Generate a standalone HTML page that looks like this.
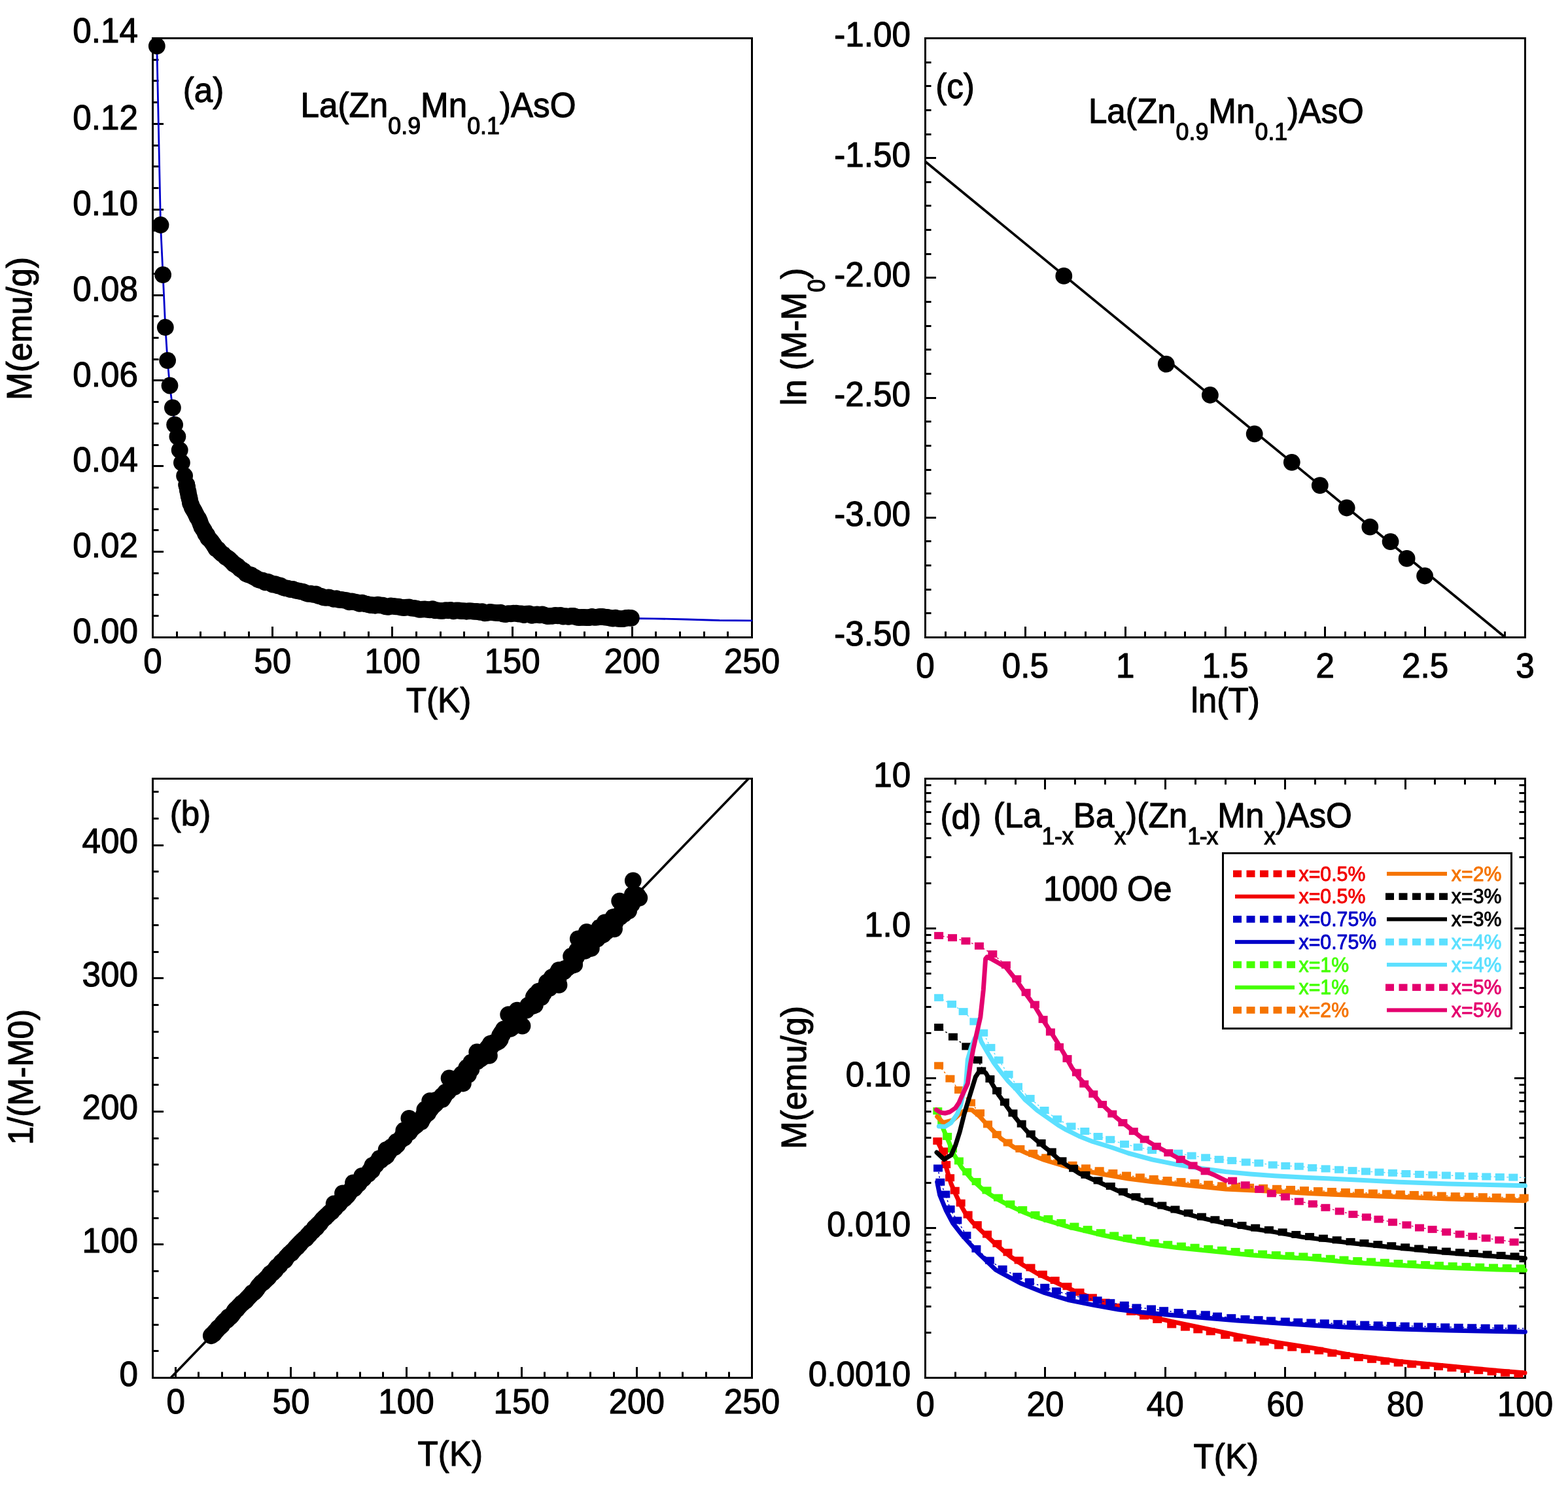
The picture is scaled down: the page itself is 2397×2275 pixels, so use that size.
<!DOCTYPE html>
<html><head><meta charset="utf-8"><title>Figure</title>
<style>
html,body{margin:0;padding:0;background:#fff;overflow:hidden;}
svg{display:block;}
text{font-family:"Liberation Sans",Arial,Helvetica,sans-serif;}
</style></head><body>
<svg width="2397" height="2275" viewBox="0 0 2397 2275">
<rect width="2397" height="2275" fill="#fff"/>
<g stroke="#000" stroke-width="3" stroke-linecap="butt">
<rect x="233.5" y="58.5" width="916" height="916" fill="none" stroke="#000" stroke-width="3"/>
<line x1="270.5" y1="974.5" x2="270.5" y2="965.5"/>
<line x1="306.5" y1="974.5" x2="306.5" y2="965.5"/>
<line x1="343.5" y1="974.5" x2="343.5" y2="965.5"/>
<line x1="380.5" y1="974.5" x2="380.5" y2="965.5"/>
<line x1="416.5" y1="974.5" x2="416.5" y2="958"/>
<line x1="453.5" y1="974.5" x2="453.5" y2="965.5"/>
<line x1="489.5" y1="974.5" x2="489.5" y2="965.5"/>
<line x1="526.5" y1="974.5" x2="526.5" y2="965.5"/>
<line x1="563.5" y1="974.5" x2="563.5" y2="965.5"/>
<line x1="599.5" y1="974.5" x2="599.5" y2="958"/>
<line x1="636.5" y1="974.5" x2="636.5" y2="965.5"/>
<line x1="673.5" y1="974.5" x2="673.5" y2="965.5"/>
<line x1="709.5" y1="974.5" x2="709.5" y2="965.5"/>
<line x1="746.5" y1="974.5" x2="746.5" y2="965.5"/>
<line x1="783.5" y1="974.5" x2="783.5" y2="958"/>
<line x1="819.5" y1="974.5" x2="819.5" y2="965.5"/>
<line x1="856.5" y1="974.5" x2="856.5" y2="965.5"/>
<line x1="893.5" y1="974.5" x2="893.5" y2="965.5"/>
<line x1="929.5" y1="974.5" x2="929.5" y2="965.5"/>
<line x1="966.5" y1="974.5" x2="966.5" y2="958"/>
<line x1="1002.5" y1="974.5" x2="1002.5" y2="965.5"/>
<line x1="1039.5" y1="974.5" x2="1039.5" y2="965.5"/>
<line x1="1076.5" y1="974.5" x2="1076.5" y2="965.5"/>
<line x1="1112.5" y1="974.5" x2="1112.5" y2="965.5"/>
<line x1="233.5" y1="941.5" x2="242.5" y2="941.5"/>
<line x1="233.5" y1="909.5" x2="242.5" y2="909.5"/>
<line x1="233.5" y1="876.5" x2="242.5" y2="876.5"/>
<line x1="233.5" y1="843.5" x2="250" y2="843.5"/>
<line x1="233.5" y1="810.5" x2="242.5" y2="810.5"/>
<line x1="233.5" y1="778.5" x2="242.5" y2="778.5"/>
<line x1="233.5" y1="745.5" x2="242.5" y2="745.5"/>
<line x1="233.5" y1="712.5" x2="250" y2="712.5"/>
<line x1="233.5" y1="680.5" x2="242.5" y2="680.5"/>
<line x1="233.5" y1="647.5" x2="242.5" y2="647.5"/>
<line x1="233.5" y1="614.5" x2="242.5" y2="614.5"/>
<line x1="233.5" y1="581.5" x2="250" y2="581.5"/>
<line x1="233.5" y1="549.5" x2="242.5" y2="549.5"/>
<line x1="233.5" y1="516.5" x2="242.5" y2="516.5"/>
<line x1="233.5" y1="483.5" x2="242.5" y2="483.5"/>
<line x1="233.5" y1="451.5" x2="250" y2="451.5"/>
<line x1="233.5" y1="418.5" x2="242.5" y2="418.5"/>
<line x1="233.5" y1="385.5" x2="242.5" y2="385.5"/>
<line x1="233.5" y1="352.5" x2="242.5" y2="352.5"/>
<line x1="233.5" y1="320.5" x2="250" y2="320.5"/>
<line x1="233.5" y1="287.5" x2="242.5" y2="287.5"/>
<line x1="233.5" y1="254.5" x2="242.5" y2="254.5"/>
<line x1="233.5" y1="222.5" x2="242.5" y2="222.5"/>
<line x1="233.5" y1="189.5" x2="250" y2="189.5"/>
<line x1="233.5" y1="156.5" x2="242.5" y2="156.5"/>
<line x1="233.5" y1="123.5" x2="242.5" y2="123.5"/>
<line x1="233.5" y1="91.5" x2="242.5" y2="91.5"/>
<rect x="233.5" y="1190.5" width="916" height="916" fill="none" stroke="#000" stroke-width="3"/>
<line x1="268.5" y1="2106.5" x2="268.5" y2="2090"/>
<line x1="303.5" y1="2106.5" x2="303.5" y2="2097.5"/>
<line x1="339.5" y1="2106.5" x2="339.5" y2="2097.5"/>
<line x1="374.5" y1="2106.5" x2="374.5" y2="2097.5"/>
<line x1="409.5" y1="2106.5" x2="409.5" y2="2097.5"/>
<line x1="444.5" y1="2106.5" x2="444.5" y2="2090"/>
<line x1="480.5" y1="2106.5" x2="480.5" y2="2097.5"/>
<line x1="515.5" y1="2106.5" x2="515.5" y2="2097.5"/>
<line x1="550.5" y1="2106.5" x2="550.5" y2="2097.5"/>
<line x1="585.5" y1="2106.5" x2="585.5" y2="2097.5"/>
<line x1="621.5" y1="2106.5" x2="621.5" y2="2090"/>
<line x1="656.5" y1="2106.5" x2="656.5" y2="2097.5"/>
<line x1="691.5" y1="2106.5" x2="691.5" y2="2097.5"/>
<line x1="726.5" y1="2106.5" x2="726.5" y2="2097.5"/>
<line x1="761.5" y1="2106.5" x2="761.5" y2="2097.5"/>
<line x1="797.5" y1="2106.5" x2="797.5" y2="2090"/>
<line x1="832.5" y1="2106.5" x2="832.5" y2="2097.5"/>
<line x1="867.5" y1="2106.5" x2="867.5" y2="2097.5"/>
<line x1="902.5" y1="2106.5" x2="902.5" y2="2097.5"/>
<line x1="938.5" y1="2106.5" x2="938.5" y2="2097.5"/>
<line x1="973.5" y1="2106.5" x2="973.5" y2="2090"/>
<line x1="1008.5" y1="2106.5" x2="1008.5" y2="2097.5"/>
<line x1="1043.5" y1="2106.5" x2="1043.5" y2="2097.5"/>
<line x1="1079.5" y1="2106.5" x2="1079.5" y2="2097.5"/>
<line x1="1114.5" y1="2106.5" x2="1114.5" y2="2097.5"/>
<line x1="233.5" y1="2065.5" x2="242.5" y2="2065.5"/>
<line x1="233.5" y1="2025.5" x2="242.5" y2="2025.5"/>
<line x1="233.5" y1="1984.5" x2="242.5" y2="1984.5"/>
<line x1="233.5" y1="1943.5" x2="242.5" y2="1943.5"/>
<line x1="233.5" y1="1902.5" x2="250" y2="1902.5"/>
<line x1="233.5" y1="1862.5" x2="242.5" y2="1862.5"/>
<line x1="233.5" y1="1821.5" x2="242.5" y2="1821.5"/>
<line x1="233.5" y1="1780.5" x2="242.5" y2="1780.5"/>
<line x1="233.5" y1="1740.5" x2="242.5" y2="1740.5"/>
<line x1="233.5" y1="1699.5" x2="250" y2="1699.5"/>
<line x1="233.5" y1="1658.5" x2="242.5" y2="1658.5"/>
<line x1="233.5" y1="1617.5" x2="242.5" y2="1617.5"/>
<line x1="233.5" y1="1577.5" x2="242.5" y2="1577.5"/>
<line x1="233.5" y1="1536.5" x2="242.5" y2="1536.5"/>
<line x1="233.5" y1="1495.5" x2="250" y2="1495.5"/>
<line x1="233.5" y1="1455.5" x2="242.5" y2="1455.5"/>
<line x1="233.5" y1="1414.5" x2="242.5" y2="1414.5"/>
<line x1="233.5" y1="1373.5" x2="242.5" y2="1373.5"/>
<line x1="233.5" y1="1332.5" x2="242.5" y2="1332.5"/>
<line x1="233.5" y1="1292.5" x2="250" y2="1292.5"/>
<line x1="233.5" y1="1251.5" x2="242.5" y2="1251.5"/>
<line x1="233.5" y1="1210.5" x2="242.5" y2="1210.5"/>
<rect x="1414.5" y="58.5" width="917" height="916" fill="none" stroke="#000" stroke-width="3"/>
<line x1="1445.5" y1="974.5" x2="1445.5" y2="965.5"/>
<line x1="1475.5" y1="974.5" x2="1475.5" y2="965.5"/>
<line x1="1506.5" y1="974.5" x2="1506.5" y2="965.5"/>
<line x1="1536.5" y1="974.5" x2="1536.5" y2="965.5"/>
<line x1="1567.5" y1="974.5" x2="1567.5" y2="958"/>
<line x1="1597.5" y1="974.5" x2="1597.5" y2="965.5"/>
<line x1="1628.5" y1="974.5" x2="1628.5" y2="965.5"/>
<line x1="1659.5" y1="974.5" x2="1659.5" y2="965.5"/>
<line x1="1689.5" y1="974.5" x2="1689.5" y2="965.5"/>
<line x1="1720.5" y1="974.5" x2="1720.5" y2="958"/>
<line x1="1750.5" y1="974.5" x2="1750.5" y2="965.5"/>
<line x1="1781.5" y1="974.5" x2="1781.5" y2="965.5"/>
<line x1="1811.5" y1="974.5" x2="1811.5" y2="965.5"/>
<line x1="1842.5" y1="974.5" x2="1842.5" y2="965.5"/>
<line x1="1873.5" y1="974.5" x2="1873.5" y2="958"/>
<line x1="1903.5" y1="974.5" x2="1903.5" y2="965.5"/>
<line x1="1934.5" y1="974.5" x2="1934.5" y2="965.5"/>
<line x1="1964.5" y1="974.5" x2="1964.5" y2="965.5"/>
<line x1="1995.5" y1="974.5" x2="1995.5" y2="965.5"/>
<line x1="2025.5" y1="974.5" x2="2025.5" y2="958"/>
<line x1="2056.5" y1="974.5" x2="2056.5" y2="965.5"/>
<line x1="2086.5" y1="974.5" x2="2086.5" y2="965.5"/>
<line x1="2117.5" y1="974.5" x2="2117.5" y2="965.5"/>
<line x1="2148.5" y1="974.5" x2="2148.5" y2="965.5"/>
<line x1="2178.5" y1="974.5" x2="2178.5" y2="958"/>
<line x1="2209.5" y1="974.5" x2="2209.5" y2="965.5"/>
<line x1="2239.5" y1="974.5" x2="2239.5" y2="965.5"/>
<line x1="2270.5" y1="974.5" x2="2270.5" y2="965.5"/>
<line x1="2300.5" y1="974.5" x2="2300.5" y2="965.5"/>
<line x1="1414.5" y1="937.5" x2="1423.5" y2="937.5"/>
<line x1="1414.5" y1="901.5" x2="1423.5" y2="901.5"/>
<line x1="1414.5" y1="864.5" x2="1423.5" y2="864.5"/>
<line x1="1414.5" y1="827.5" x2="1423.5" y2="827.5"/>
<line x1="1414.5" y1="791.5" x2="1431" y2="791.5"/>
<line x1="1414.5" y1="754.5" x2="1423.5" y2="754.5"/>
<line x1="1414.5" y1="718.5" x2="1423.5" y2="718.5"/>
<line x1="1414.5" y1="681.5" x2="1423.5" y2="681.5"/>
<line x1="1414.5" y1="644.5" x2="1423.5" y2="644.5"/>
<line x1="1414.5" y1="608.5" x2="1431" y2="608.5"/>
<line x1="1414.5" y1="571.5" x2="1423.5" y2="571.5"/>
<line x1="1414.5" y1="534.5" x2="1423.5" y2="534.5"/>
<line x1="1414.5" y1="498.5" x2="1423.5" y2="498.5"/>
<line x1="1414.5" y1="461.5" x2="1423.5" y2="461.5"/>
<line x1="1414.5" y1="424.5" x2="1431" y2="424.5"/>
<line x1="1414.5" y1="388.5" x2="1423.5" y2="388.5"/>
<line x1="1414.5" y1="351.5" x2="1423.5" y2="351.5"/>
<line x1="1414.5" y1="314.5" x2="1423.5" y2="314.5"/>
<line x1="1414.5" y1="278.5" x2="1423.5" y2="278.5"/>
<line x1="1414.5" y1="241.5" x2="1431" y2="241.5"/>
<line x1="1414.5" y1="205.5" x2="1423.5" y2="205.5"/>
<line x1="1414.5" y1="168.5" x2="1423.5" y2="168.5"/>
<line x1="1414.5" y1="131.5" x2="1423.5" y2="131.5"/>
<line x1="1414.5" y1="95.5" x2="1423.5" y2="95.5"/>
<rect x="1414.5" y="1190.5" width="917" height="916" fill="none" stroke="#000" stroke-width="3"/>
<line x1="1460.5" y1="2106.5" x2="1460.5" y2="2097.5"/>
<line x1="1460.5" y1="1190.5" x2="1460.5" y2="1199.5"/>
<line x1="1506.5" y1="2106.5" x2="1506.5" y2="2097.5"/>
<line x1="1506.5" y1="1190.5" x2="1506.5" y2="1199.5"/>
<line x1="1552.5" y1="2106.5" x2="1552.5" y2="2097.5"/>
<line x1="1552.5" y1="1190.5" x2="1552.5" y2="1199.5"/>
<line x1="1597.5" y1="2106.5" x2="1597.5" y2="2090"/>
<line x1="1597.5" y1="1190.5" x2="1597.5" y2="1207"/>
<line x1="1643.5" y1="2106.5" x2="1643.5" y2="2097.5"/>
<line x1="1643.5" y1="1190.5" x2="1643.5" y2="1199.5"/>
<line x1="1689.5" y1="2106.5" x2="1689.5" y2="2097.5"/>
<line x1="1689.5" y1="1190.5" x2="1689.5" y2="1199.5"/>
<line x1="1735.5" y1="2106.5" x2="1735.5" y2="2097.5"/>
<line x1="1735.5" y1="1190.5" x2="1735.5" y2="1199.5"/>
<line x1="1781.5" y1="2106.5" x2="1781.5" y2="2090"/>
<line x1="1781.5" y1="1190.5" x2="1781.5" y2="1207"/>
<line x1="1827.5" y1="2106.5" x2="1827.5" y2="2097.5"/>
<line x1="1827.5" y1="1190.5" x2="1827.5" y2="1199.5"/>
<line x1="1873.5" y1="2106.5" x2="1873.5" y2="2097.5"/>
<line x1="1873.5" y1="1190.5" x2="1873.5" y2="1199.5"/>
<line x1="1918.5" y1="2106.5" x2="1918.5" y2="2097.5"/>
<line x1="1918.5" y1="1190.5" x2="1918.5" y2="1199.5"/>
<line x1="1964.5" y1="2106.5" x2="1964.5" y2="2090"/>
<line x1="1964.5" y1="1190.5" x2="1964.5" y2="1207"/>
<line x1="2010.5" y1="2106.5" x2="2010.5" y2="2097.5"/>
<line x1="2010.5" y1="1190.5" x2="2010.5" y2="1199.5"/>
<line x1="2056.5" y1="2106.5" x2="2056.5" y2="2097.5"/>
<line x1="2056.5" y1="1190.5" x2="2056.5" y2="1199.5"/>
<line x1="2102.5" y1="2106.5" x2="2102.5" y2="2097.5"/>
<line x1="2102.5" y1="1190.5" x2="2102.5" y2="1199.5"/>
<line x1="2148.5" y1="2106.5" x2="2148.5" y2="2090"/>
<line x1="2148.5" y1="1190.5" x2="2148.5" y2="1207"/>
<line x1="2193.5" y1="2106.5" x2="2193.5" y2="2097.5"/>
<line x1="2193.5" y1="1190.5" x2="2193.5" y2="1199.5"/>
<line x1="2239.5" y1="2106.5" x2="2239.5" y2="2097.5"/>
<line x1="2239.5" y1="1190.5" x2="2239.5" y2="1199.5"/>
<line x1="2285.5" y1="2106.5" x2="2285.5" y2="2097.5"/>
<line x1="2285.5" y1="1190.5" x2="2285.5" y2="1199.5"/>
<line x1="1414.5" y1="2037.5" x2="1423.5" y2="2037.5"/>
<line x1="2331.5" y1="2037.5" x2="2322.5" y2="2037.5"/>
<line x1="1414.5" y1="1997.5" x2="1423.5" y2="1997.5"/>
<line x1="2331.5" y1="1997.5" x2="2322.5" y2="1997.5"/>
<line x1="1414.5" y1="1968.5" x2="1423.5" y2="1968.5"/>
<line x1="2331.5" y1="1968.5" x2="2322.5" y2="1968.5"/>
<line x1="1414.5" y1="1946.5" x2="1423.5" y2="1946.5"/>
<line x1="2331.5" y1="1946.5" x2="2322.5" y2="1946.5"/>
<line x1="1414.5" y1="1928.5" x2="1423.5" y2="1928.5"/>
<line x1="2331.5" y1="1928.5" x2="2322.5" y2="1928.5"/>
<line x1="1414.5" y1="1912.5" x2="1423.5" y2="1912.5"/>
<line x1="2331.5" y1="1912.5" x2="2322.5" y2="1912.5"/>
<line x1="1414.5" y1="1899.5" x2="1423.5" y2="1899.5"/>
<line x1="2331.5" y1="1899.5" x2="2322.5" y2="1899.5"/>
<line x1="1414.5" y1="1887.5" x2="1423.5" y2="1887.5"/>
<line x1="2331.5" y1="1887.5" x2="2322.5" y2="1887.5"/>
<line x1="1414.5" y1="1877.5" x2="1431" y2="1877.5"/>
<line x1="2331.5" y1="1877.5" x2="2315" y2="1877.5"/>
<line x1="1414.5" y1="1808.5" x2="1423.5" y2="1808.5"/>
<line x1="2331.5" y1="1808.5" x2="2322.5" y2="1808.5"/>
<line x1="1414.5" y1="1768.5" x2="1423.5" y2="1768.5"/>
<line x1="2331.5" y1="1768.5" x2="2322.5" y2="1768.5"/>
<line x1="1414.5" y1="1739.5" x2="1423.5" y2="1739.5"/>
<line x1="2331.5" y1="1739.5" x2="2322.5" y2="1739.5"/>
<line x1="1414.5" y1="1717.5" x2="1423.5" y2="1717.5"/>
<line x1="2331.5" y1="1717.5" x2="2322.5" y2="1717.5"/>
<line x1="1414.5" y1="1699.5" x2="1423.5" y2="1699.5"/>
<line x1="2331.5" y1="1699.5" x2="2322.5" y2="1699.5"/>
<line x1="1414.5" y1="1683.5" x2="1423.5" y2="1683.5"/>
<line x1="2331.5" y1="1683.5" x2="2322.5" y2="1683.5"/>
<line x1="1414.5" y1="1670.5" x2="1423.5" y2="1670.5"/>
<line x1="2331.5" y1="1670.5" x2="2322.5" y2="1670.5"/>
<line x1="1414.5" y1="1658.5" x2="1423.5" y2="1658.5"/>
<line x1="2331.5" y1="1658.5" x2="2322.5" y2="1658.5"/>
<line x1="1414.5" y1="1648.5" x2="1431" y2="1648.5"/>
<line x1="2331.5" y1="1648.5" x2="2315" y2="1648.5"/>
<line x1="1414.5" y1="1579.5" x2="1423.5" y2="1579.5"/>
<line x1="2331.5" y1="1579.5" x2="2322.5" y2="1579.5"/>
<line x1="1414.5" y1="1539.5" x2="1423.5" y2="1539.5"/>
<line x1="2331.5" y1="1539.5" x2="2322.5" y2="1539.5"/>
<line x1="1414.5" y1="1510.5" x2="1423.5" y2="1510.5"/>
<line x1="2331.5" y1="1510.5" x2="2322.5" y2="1510.5"/>
<line x1="1414.5" y1="1488.5" x2="1423.5" y2="1488.5"/>
<line x1="2331.5" y1="1488.5" x2="2322.5" y2="1488.5"/>
<line x1="1414.5" y1="1470.5" x2="1423.5" y2="1470.5"/>
<line x1="2331.5" y1="1470.5" x2="2322.5" y2="1470.5"/>
<line x1="1414.5" y1="1454.5" x2="1423.5" y2="1454.5"/>
<line x1="2331.5" y1="1454.5" x2="2322.5" y2="1454.5"/>
<line x1="1414.5" y1="1441.5" x2="1423.5" y2="1441.5"/>
<line x1="2331.5" y1="1441.5" x2="2322.5" y2="1441.5"/>
<line x1="1414.5" y1="1429.5" x2="1423.5" y2="1429.5"/>
<line x1="2331.5" y1="1429.5" x2="2322.5" y2="1429.5"/>
<line x1="1414.5" y1="1419.5" x2="1431" y2="1419.5"/>
<line x1="2331.5" y1="1419.5" x2="2315" y2="1419.5"/>
<line x1="1414.5" y1="1350.5" x2="1423.5" y2="1350.5"/>
<line x1="2331.5" y1="1350.5" x2="2322.5" y2="1350.5"/>
<line x1="1414.5" y1="1310.5" x2="1423.5" y2="1310.5"/>
<line x1="2331.5" y1="1310.5" x2="2322.5" y2="1310.5"/>
<line x1="1414.5" y1="1281.5" x2="1423.5" y2="1281.5"/>
<line x1="2331.5" y1="1281.5" x2="2322.5" y2="1281.5"/>
<line x1="1414.5" y1="1259.5" x2="1423.5" y2="1259.5"/>
<line x1="2331.5" y1="1259.5" x2="2322.5" y2="1259.5"/>
<line x1="1414.5" y1="1241.5" x2="1423.5" y2="1241.5"/>
<line x1="2331.5" y1="1241.5" x2="2322.5" y2="1241.5"/>
<line x1="1414.5" y1="1225.5" x2="1423.5" y2="1225.5"/>
<line x1="2331.5" y1="1225.5" x2="2322.5" y2="1225.5"/>
<line x1="1414.5" y1="1212.5" x2="1423.5" y2="1212.5"/>
<line x1="2331.5" y1="1212.5" x2="2322.5" y2="1212.5"/>
<line x1="1414.5" y1="1200.5" x2="1423.5" y2="1200.5"/>
<line x1="2331.5" y1="1200.5" x2="2322.5" y2="1200.5"/>
</g>
<g font-family="'Liberation Sans', Arial, Helvetica, sans-serif" font-size="51.2" stroke="#000" stroke-width="1.1" stroke-linejoin="round">
<text transform="translate(211,65.1) scale(1,1.0405)" text-anchor="end">0.14</text>
<text transform="translate(211,197.8) scale(1,1.0405)" text-anchor="end">0.12</text>
<text transform="translate(211,329.11) scale(1,1.0405)" text-anchor="end">0.10</text>
<text transform="translate(211,459.97) scale(1,1.0405)" text-anchor="end">0.08</text>
<text transform="translate(211,590.5) scale(1,1.0405)" text-anchor="end">0.06</text>
<text transform="translate(211,720.9) scale(1,1.0405)" text-anchor="end">0.04</text>
<text transform="translate(211,852.1) scale(1,1.0405)" text-anchor="end">0.02</text>
<text transform="translate(211,983.3) scale(1,1.0405)" text-anchor="end">0.00</text>
<text transform="translate(233.5,1028.7) scale(1,1.0405)" text-anchor="middle">0</text>
<text transform="translate(416.7,1028.7) scale(1,1.0405)" text-anchor="middle">50</text>
<text transform="translate(599.9,1028.7) scale(1,1.0405)" text-anchor="middle">100</text>
<text transform="translate(783.1,1028.7) scale(1,1.0405)" text-anchor="middle">150</text>
<text transform="translate(966.3,1028.7) scale(1,1.0405)" text-anchor="middle">200</text>
<text transform="translate(1149.5,1028.7) scale(1,1.0405)" text-anchor="middle">250</text>
<text transform="translate(211,2118.5) scale(1,1.0405)" text-anchor="end">0</text>
<text transform="translate(211,1914.94) scale(1,1.0405)" text-anchor="end">100</text>
<text transform="translate(211,1711.39) scale(1,1.0405)" text-anchor="end">200</text>
<text transform="translate(211,1507.83) scale(1,1.0405)" text-anchor="end">300</text>
<text transform="translate(211,1304.28) scale(1,1.0405)" text-anchor="end">400</text>
<text transform="translate(268.73,2160.5) scale(1,1.0405)" text-anchor="middle">0</text>
<text transform="translate(444.88,2160.5) scale(1,1.0405)" text-anchor="middle">50</text>
<text transform="translate(621.04,2160.5) scale(1,1.0405)" text-anchor="middle">100</text>
<text transform="translate(797.19,2160.5) scale(1,1.0405)" text-anchor="middle">150</text>
<text transform="translate(973.35,2160.5) scale(1,1.0405)" text-anchor="middle">200</text>
<text transform="translate(1149.5,2160.5) scale(1,1.0405)" text-anchor="middle">250</text>
<text transform="translate(1392,71.4) scale(1,1.0405)" text-anchor="end">-1.00</text>
<text transform="translate(1392,254.6) scale(1,1.0405)" text-anchor="end">-1.50</text>
<text transform="translate(1392,437.8) scale(1,1.0405)" text-anchor="end">-2.00</text>
<text transform="translate(1392,621) scale(1,1.0405)" text-anchor="end">-2.50</text>
<text transform="translate(1392,804.2) scale(1,1.0405)" text-anchor="end">-3.00</text>
<text transform="translate(1392,987.4) scale(1,1.0405)" text-anchor="end">-3.50</text>
<text transform="translate(1414.5,1036.2) scale(1,1.0405)" text-anchor="middle">0</text>
<text transform="translate(1567.33,1036.2) scale(1,1.0405)" text-anchor="middle">0.5</text>
<text transform="translate(1720.17,1036.2) scale(1,1.0405)" text-anchor="middle">1</text>
<text transform="translate(1873,1036.2) scale(1,1.0405)" text-anchor="middle">1.5</text>
<text transform="translate(2025.83,1036.2) scale(1,1.0405)" text-anchor="middle">2</text>
<text transform="translate(2178.67,1036.2) scale(1,1.0405)" text-anchor="middle">2.5</text>
<text transform="translate(2331.5,1036.2) scale(1,1.0405)" text-anchor="middle">3</text>
<text transform="translate(1392.3,1203.4) scale(1,1.0405)" text-anchor="end">10</text>
<text transform="translate(1392.3,1432.4) scale(1,1.0405)" text-anchor="end">1.0</text>
<text transform="translate(1392.3,1661.4) scale(1,1.0405)" text-anchor="end">0.10</text>
<text transform="translate(1392.3,1890.4) scale(1,1.0405)" text-anchor="end">0.010</text>
<text transform="translate(1392.3,2119.4) scale(1,1.0405)" text-anchor="end">0.0010</text>
<text transform="translate(1414.5,2164.7) scale(1,1.0405)" text-anchor="middle">0</text>
<text transform="translate(1597.9,2164.7) scale(1,1.0405)" text-anchor="middle">20</text>
<text transform="translate(1781.3,2164.7) scale(1,1.0405)" text-anchor="middle">40</text>
<text transform="translate(1964.7,2164.7) scale(1,1.0405)" text-anchor="middle">60</text>
<text transform="translate(2148.1,2164.7) scale(1,1.0405)" text-anchor="middle">80</text>
<text transform="translate(2331.5,2164.7) scale(1,1.0405)" text-anchor="middle">100</text>
<text transform="translate(620.7,1088.9) scale(1,1.0405)">T(K)</text>
<text transform="translate(638.6,2240.9) scale(1,1.0405)">T(K)</text>
<text transform="translate(1820.5,1089) scale(1,1.0405)">ln(T)</text>
<text transform="translate(1824.6,2244.7) scale(1,1.0405)">T(K)</text>
<text transform="translate(48,612) rotate(-90) scale(1,1.0405)">M(emu/g)</text>
<text transform="translate(49.9,1750.5) rotate(-90) scale(1,1.0405)">1/(M-M0)</text>
<text transform="translate(1232,1756.9) rotate(-90) scale(1,1.0405)">M(emu/g)</text>
<text transform="translate(1232,620.2) rotate(-90) scale(1,1.0405)">ln (M-M<tspan font-size="35.8" dy="28">0</tspan><tspan dy="-28">)</tspan></text>
<text transform="translate(279.7,155.7) scale(1,1.0405)">(a)</text>
<text transform="translate(259.7,1261.8) scale(1,1.0405)">(b)</text>
<text transform="translate(1430.2,150.3) scale(1,1.0405)">(c)</text>
<text transform="translate(1437.4,1266.8) scale(1,1.0405)">(d)</text>
<text transform="translate(459.6,179) scale(1,1.0405)">La(Zn<tspan font-size="35.8" dy="25">0.9</tspan><tspan dy="-25">Mn</tspan><tspan font-size="35.8" dy="25">0.1</tspan><tspan dy="-25">)AsO</tspan></text>
<text transform="translate(1663.9,188) scale(1,1.0405)">La(Zn<tspan font-size="35.8" dy="25">0.9</tspan><tspan dy="-25">Mn</tspan><tspan font-size="35.8" dy="25">0.1</tspan><tspan dy="-25">)AsO</tspan></text>
<text transform="translate(1518.6,1265) scale(1,1.0405)">(La<tspan font-size="35.8" dy="25" letter-spacing="-0.5">1-x</tspan><tspan dy="-25">Ba</tspan><tspan font-size="35.8" dy="25">x</tspan><tspan dy="-25">)(Zn</tspan><tspan font-size="35.8" dy="25" letter-spacing="-1.2">1-x</tspan><tspan dy="-25">Mn</tspan><tspan font-size="35.8" dy="25">x</tspan><tspan dy="-25">)AsO</tspan></text>
<text transform="translate(1595,1377) scale(1,1.0405)">1000 Oe</text>
</g>
<polyline points="239.8,70.4 245.5,344 249.1,420.1 252.8,500.5 256.1,551.1 259.5,589.5 263.9,623.4 267.1,649.3 271.4,667.6 274.7,688.2 277.9,707.5 282.1,727.5 285.3,741.4 288.4,757.3 291.3,771 296,781 301.6,790 309,806 317.5,821 329.4,837.2 334,841.5 350,856 376.6,876.7 400,887.5 429.9,897 467.2,905.8 500,913.5 528,919 560,923.5 598.6,927.4 650,931.5 700,934.5 782,938.4 850,941.5 900,943.5 966.6,945.5 1000,945.8 1050,947 1100,948.5 1149,948.8" fill="none" stroke="#0000CC" stroke-width="2.8" stroke-linejoin="round" stroke-linecap="round"/>
<g fill="#000">
<circle cx="239.8" cy="70.4" r="12.9"/>
<circle cx="245.5" cy="344" r="12.9"/>
<circle cx="249.1" cy="420.1" r="12.9"/>
<circle cx="252.8" cy="500.5" r="12.9"/>
<circle cx="256.1" cy="551.1" r="12.9"/>
<circle cx="259.5" cy="589.5" r="12.9"/>
<circle cx="263.9" cy="623.4" r="12.9"/>
<circle cx="267.1" cy="649.3" r="12.9"/>
<circle cx="271.4" cy="667.6" r="12.9"/>
<circle cx="274.7" cy="688.2" r="12.9"/>
<circle cx="277.9" cy="707.5" r="12.9"/>
<circle cx="282.1" cy="727.5" r="12.9"/>
<circle cx="285.3" cy="741.4" r="12.9"/>
<circle cx="285.3" cy="740.98" r="12.9"/>
<circle cx="286.07" cy="744.49" r="12.9"/>
<circle cx="286.83" cy="749.61" r="12.9"/>
<circle cx="287.6" cy="752.15" r="12.9"/>
<circle cx="288.36" cy="757.19" r="12.9"/>
<circle cx="289.19" cy="760.7" r="12.9"/>
<circle cx="290.02" cy="763.87" r="12.9"/>
<circle cx="290.84" cy="768.86" r="12.9"/>
<circle cx="292.06" cy="771.52" r="12.9"/>
<circle cx="293.77" cy="776.09" r="12.9"/>
<circle cx="295.47" cy="778.83" r="12.9"/>
<circle cx="297.45" cy="782.35" r="12.9"/>
<circle cx="299.56" cy="786.55" r="12.9"/>
<circle cx="301.66" cy="790.92" r="12.9"/>
<circle cx="303.34" cy="792.86" r="12.9"/>
<circle cx="305.02" cy="796.73" r="12.9"/>
<circle cx="306.7" cy="801.33" r="12.9"/>
<circle cx="308.38" cy="805.73" r="12.9"/>
<circle cx="310.24" cy="808.38" r="12.9"/>
<circle cx="312.21" cy="811.42" r="12.9"/>
<circle cx="314.19" cy="816.29" r="12.9"/>
<circle cx="316.16" cy="817.54" r="12.9"/>
<circle cx="318.26" cy="822.89" r="12.9"/>
<circle cx="320.62" cy="824.75" r="12.9"/>
<circle cx="322.99" cy="827.62" r="12.9"/>
<circle cx="325.36" cy="830.78" r="12.9"/>
<circle cx="327.73" cy="834.47" r="12.9"/>
<circle cx="330.26" cy="838.76" r="12.9"/>
<circle cx="333.18" cy="839.97" r="12.9"/>
<circle cx="336.13" cy="843.63" r="12.9"/>
<circle cx="339.1" cy="846.45" r="12.9"/>
<circle cx="342.06" cy="848.5" r="12.9"/>
<circle cx="345.03" cy="851.61" r="12.9"/>
<circle cx="347.99" cy="853.13" r="12.9"/>
<circle cx="351.02" cy="855.73" r="12.9"/>
<circle cx="354.17" cy="858.54" r="12.9"/>
<circle cx="357.33" cy="862.14" r="12.9"/>
<circle cx="360.49" cy="863.99" r="12.9"/>
<circle cx="363.64" cy="866.17" r="12.9"/>
<circle cx="366.8" cy="869.28" r="12.9"/>
<circle cx="369.96" cy="871.42" r="12.9"/>
<circle cx="373.11" cy="873.51" r="12.9"/>
<circle cx="376.27" cy="877.15" r="12.9"/>
<circle cx="379.85" cy="878.68" r="12.9"/>
<circle cx="383.48" cy="879.26" r="12.9"/>
<circle cx="387.12" cy="881.73" r="12.9"/>
<circle cx="390.75" cy="883.29" r="12.9"/>
<circle cx="394.38" cy="885.81" r="12.9"/>
<circle cx="398.01" cy="887.13" r="12.9"/>
<circle cx="401.73" cy="887.54" r="12.9"/>
<circle cx="405.54" cy="890.41" r="12.9"/>
<circle cx="409.35" cy="889.55" r="12.9"/>
<circle cx="413.16" cy="891.49" r="12.9"/>
<circle cx="416.97" cy="893.51" r="12.9"/>
<circle cx="420.79" cy="893.27" r="12.9"/>
<circle cx="424.6" cy="895.29" r="12.9"/>
<circle cx="428.41" cy="895.42" r="12.9"/>
<circle cx="432.27" cy="897.96" r="12.9"/>
<circle cx="436.17" cy="899.11" r="12.9"/>
<circle cx="440.06" cy="899.57" r="12.9"/>
<circle cx="443.95" cy="901.22" r="12.9"/>
<circle cx="447.84" cy="900.79" r="12.9"/>
<circle cx="451.74" cy="902.62" r="12.9"/>
<circle cx="455.63" cy="903.3" r="12.9"/>
<circle cx="459.52" cy="904.18" r="12.9"/>
<circle cx="463.42" cy="904.8" r="12.9"/>
<circle cx="467.31" cy="906.64" r="12.9"/>
<circle cx="471.2" cy="907.81" r="12.9"/>
<circle cx="475.1" cy="907.59" r="12.9"/>
<circle cx="478.99" cy="908.96" r="12.9"/>
<circle cx="482.89" cy="908.43" r="12.9"/>
<circle cx="486.78" cy="910.88" r="12.9"/>
<circle cx="490.68" cy="911.66" r="12.9"/>
<circle cx="494.57" cy="913.41" r="12.9"/>
<circle cx="498.46" cy="913.91" r="12.9"/>
<circle cx="502.38" cy="913.45" r="12.9"/>
<circle cx="506.3" cy="914.46" r="12.9"/>
<circle cx="510.23" cy="915.91" r="12.9"/>
<circle cx="514.15" cy="915.13" r="12.9"/>
<circle cx="518.08" cy="916.96" r="12.9"/>
<circle cx="522" cy="917.02" r="12.9"/>
<circle cx="525.93" cy="917.67" r="12.9"/>
<circle cx="529.87" cy="918.2" r="12.9"/>
<circle cx="533.83" cy="920.46" r="12.9"/>
<circle cx="537.79" cy="919.49" r="12.9"/>
<circle cx="541.75" cy="920.33" r="12.9"/>
<circle cx="545.71" cy="921.23" r="12.9"/>
<circle cx="549.67" cy="922.94" r="12.9"/>
<circle cx="553.63" cy="921.6" r="12.9"/>
<circle cx="557.6" cy="923.04" r="12.9"/>
<circle cx="561.56" cy="923.78" r="12.9"/>
<circle cx="565.54" cy="924.98" r="12.9"/>
<circle cx="569.52" cy="925.23" r="12.9"/>
<circle cx="573.5" cy="925.74" r="12.9"/>
<circle cx="577.48" cy="924.73" r="12.9"/>
<circle cx="581.46" cy="925.47" r="12.9"/>
<circle cx="585.44" cy="925.73" r="12.9"/>
<circle cx="589.42" cy="927.39" r="12.9"/>
<circle cx="593.4" cy="927.97" r="12.9"/>
<circle cx="597.38" cy="926.44" r="12.9"/>
<circle cx="601.37" cy="926.84" r="12.9"/>
<circle cx="605.35" cy="927.3" r="12.9"/>
<circle cx="609.34" cy="927.62" r="12.9"/>
<circle cx="613.33" cy="928.54" r="12.9"/>
<circle cx="617.32" cy="929.11" r="12.9"/>
<circle cx="621.3" cy="928.64" r="12.9"/>
<circle cx="625.29" cy="928.34" r="12.9"/>
<circle cx="629.28" cy="929.65" r="12.9"/>
<circle cx="633.27" cy="929.85" r="12.9"/>
<circle cx="637.25" cy="930.64" r="12.9"/>
<circle cx="641.24" cy="931.89" r="12.9"/>
<circle cx="645.23" cy="931.58" r="12.9"/>
<circle cx="649.21" cy="931.47" r="12.9"/>
<circle cx="653.21" cy="931.97" r="12.9"/>
<circle cx="657.2" cy="932.35" r="12.9"/>
<circle cx="661.19" cy="931.1" r="12.9"/>
<circle cx="665.18" cy="933.37" r="12.9"/>
<circle cx="669.18" cy="933.32" r="12.9"/>
<circle cx="673.17" cy="933.79" r="12.9"/>
<circle cx="677.16" cy="933.84" r="12.9"/>
<circle cx="681.16" cy="933.11" r="12.9"/>
<circle cx="685.15" cy="933.37" r="12.9"/>
<circle cx="689.14" cy="932.9" r="12.9"/>
<circle cx="693.13" cy="934.41" r="12.9"/>
<circle cx="697.13" cy="933.28" r="12.9"/>
<circle cx="701.12" cy="933.51" r="12.9"/>
<circle cx="705.12" cy="934.04" r="12.9"/>
<circle cx="709.11" cy="934.12" r="12.9"/>
<circle cx="713.11" cy="934.74" r="12.9"/>
<circle cx="717.1" cy="934.24" r="12.9"/>
<circle cx="721.1" cy="934.3" r="12.9"/>
<circle cx="725.09" cy="934.86" r="12.9"/>
<circle cx="729.09" cy="934.93" r="12.9"/>
<circle cx="733.08" cy="935.75" r="12.9"/>
<circle cx="737.08" cy="935.12" r="12.9"/>
<circle cx="741.08" cy="937.35" r="12.9"/>
<circle cx="745.07" cy="936.92" r="12.9"/>
<circle cx="749.07" cy="935.99" r="12.9"/>
<circle cx="753.06" cy="936.43" r="12.9"/>
<circle cx="757.06" cy="936.85" r="12.9"/>
<circle cx="761.05" cy="937.08" r="12.9"/>
<circle cx="765.05" cy="936.69" r="12.9"/>
<circle cx="769.04" cy="938.62" r="12.9"/>
<circle cx="773.04" cy="939.16" r="12.9"/>
<circle cx="777.03" cy="938.08" r="12.9"/>
<circle cx="781.03" cy="938.32" r="12.9"/>
<circle cx="785.03" cy="937.54" r="12.9"/>
<circle cx="789.02" cy="937.77" r="12.9"/>
<circle cx="793.02" cy="938.52" r="12.9"/>
<circle cx="797.01" cy="938.52" r="12.9"/>
<circle cx="801.01" cy="940.06" r="12.9"/>
<circle cx="805.01" cy="938.64" r="12.9"/>
<circle cx="809" cy="938.49" r="12.9"/>
<circle cx="813" cy="940.9" r="12.9"/>
<circle cx="816.99" cy="940.06" r="12.9"/>
<circle cx="820.99" cy="939.33" r="12.9"/>
<circle cx="824.98" cy="940.46" r="12.9"/>
<circle cx="828.98" cy="939.41" r="12.9"/>
<circle cx="832.98" cy="940.79" r="12.9"/>
<circle cx="836.97" cy="942.05" r="12.9"/>
<circle cx="840.97" cy="941.96" r="12.9"/>
<circle cx="844.96" cy="941.74" r="12.9"/>
<circle cx="848.96" cy="940.88" r="12.9"/>
<circle cx="852.96" cy="941.3" r="12.9"/>
<circle cx="856.95" cy="940.98" r="12.9"/>
<circle cx="860.95" cy="942.59" r="12.9"/>
<circle cx="864.95" cy="942.18" r="12.9"/>
<circle cx="868.94" cy="942.93" r="12.9"/>
<circle cx="872.94" cy="942.01" r="12.9"/>
<circle cx="876.94" cy="941.91" r="12.9"/>
<circle cx="880.93" cy="943.48" r="12.9"/>
<circle cx="884.93" cy="944.06" r="12.9"/>
<circle cx="888.93" cy="943.9" r="12.9"/>
<circle cx="892.92" cy="943.95" r="12.9"/>
<circle cx="896.92" cy="944.14" r="12.9"/>
<circle cx="900.92" cy="944.1" r="12.9"/>
<circle cx="904.92" cy="942.99" r="12.9"/>
<circle cx="908.91" cy="943.81" r="12.9"/>
<circle cx="912.91" cy="943.54" r="12.9"/>
<circle cx="916.91" cy="942.88" r="12.9"/>
<circle cx="920.91" cy="942.99" r="12.9"/>
<circle cx="924.91" cy="943.72" r="12.9"/>
<circle cx="928.91" cy="943.79" r="12.9"/>
<circle cx="932.9" cy="944.95" r="12.9"/>
<circle cx="936.9" cy="945.7" r="12.9"/>
<circle cx="940.9" cy="944.6" r="12.9"/>
<circle cx="944.9" cy="945.9" r="12.9"/>
<circle cx="948.9" cy="946.14" r="12.9"/>
<circle cx="952.89" cy="946.18" r="12.9"/>
<circle cx="956.89" cy="944.88" r="12.9"/>
<circle cx="960.89" cy="944.66" r="12.9"/>
<circle cx="964.89" cy="944.79" r="12.9"/>
</g>
<polyline points="261.3,2106.2 1143.8,1190.9" fill="none" stroke="#000" stroke-width="3.6" stroke-linejoin="round" stroke-linecap="butt"/>
<g fill="#000">
<circle cx="322.83" cy="2042.24" r="12.9"/>
<circle cx="324.79" cy="2040.52" r="12.9"/>
<circle cx="327.11" cy="2039.16" r="12.9"/>
<circle cx="328.25" cy="2036.66" r="12.9"/>
<circle cx="330.11" cy="2034.85" r="12.9"/>
<circle cx="332.03" cy="2033.09" r="12.9"/>
<circle cx="333.25" cy="2030.67" r="12.9"/>
<circle cx="335.52" cy="2029.26" r="12.9"/>
<circle cx="337.49" cy="2027.55" r="12.9"/>
<circle cx="339.52" cy="2025.91" r="12.9"/>
<circle cx="340.32" cy="2023.08" r="12.9"/>
<circle cx="342.42" cy="2021.5" r="12.9"/>
<circle cx="343.91" cy="2019.34" r="12.9"/>
<circle cx="346.75" cy="2018.47" r="12.9"/>
<circle cx="348.38" cy="2016.44" r="12.9"/>
<circle cx="349.24" cy="2013.67" r="12.9"/>
<circle cx="352.39" cy="2013.11" r="12.9"/>
<circle cx="354.17" cy="2011.22" r="12.9"/>
<circle cx="355.52" cy="2008.92" r="12.9"/>
<circle cx="357.27" cy="2007" r="12.9"/>
<circle cx="358.41" cy="2004.49" r="12.9"/>
<circle cx="360" cy="2002.43" r="12.9"/>
<circle cx="362.54" cy="2001.27" r="12.9"/>
<circle cx="363.67" cy="1998.76" r="12.9"/>
<circle cx="365.65" cy="1997.07" r="12.9"/>
<circle cx="367.53" cy="1995.28" r="12.9"/>
<circle cx="369.02" cy="1993.12" r="12.9"/>
<circle cx="371.45" cy="1991.85" r="12.9"/>
<circle cx="373.21" cy="1989.95" r="12.9"/>
<circle cx="375.59" cy="1988.64" r="12.9"/>
<circle cx="376.93" cy="1986.33" r="12.9"/>
<circle cx="378.9" cy="1984.63" r="12.9"/>
<circle cx="380.5" cy="1982.57" r="12.9"/>
<circle cx="382.53" cy="1980.92" r="12.9"/>
<circle cx="384.04" cy="1978.77" r="12.9"/>
<circle cx="385.58" cy="1976.66" r="12.9"/>
<circle cx="388.42" cy="1975.79" r="12.9"/>
<circle cx="390.21" cy="1973.92" r="12.9"/>
<circle cx="391.79" cy="1971.84" r="12.9"/>
<circle cx="393.4" cy="1969.79" r="12.9"/>
<circle cx="394.63" cy="1967.37" r="12.9"/>
<circle cx="396.31" cy="1965.39" r="12.9"/>
<circle cx="398.2" cy="1963.6" r="12.9"/>
<circle cx="399.68" cy="1961.43" r="12.9"/>
<circle cx="402.48" cy="1960.53" r="12.9"/>
<circle cx="403.76" cy="1958.16" r="12.9"/>
<circle cx="406.2" cy="1956.91" r="12.9"/>
<circle cx="407.34" cy="1954.4" r="12.9"/>
<circle cx="409.96" cy="1953.33" r="12.9"/>
<circle cx="411.6" cy="1951.31" r="12.9"/>
<circle cx="412.18" cy="1948.27" r="12.9"/>
<circle cx="414.28" cy="1946.69" r="12.9"/>
<circle cx="417.09" cy="1945.8" r="12.9"/>
<circle cx="418.26" cy="1943.32" r="12.9"/>
<circle cx="420.79" cy="1942.16" r="12.9"/>
<circle cx="421.75" cy="1939.48" r="12.9"/>
<circle cx="423.09" cy="1937.17" r="12.9"/>
<circle cx="425.69" cy="1936.07" r="12.9"/>
<circle cx="427.7" cy="1934.41" r="12.9"/>
<circle cx="428.77" cy="1931.84" r="12.9"/>
<circle cx="430.31" cy="1929.72" r="12.9"/>
<circle cx="432.46" cy="1928.19" r="12.9"/>
<circle cx="435.17" cy="1927.2" r="12.9"/>
<circle cx="436.67" cy="1925.05" r="12.9"/>
<circle cx="437.55" cy="1922.29" r="12.9"/>
<circle cx="439.53" cy="1920.6" r="12.9"/>
<circle cx="441.13" cy="1918.54" r="12.9"/>
<circle cx="442.87" cy="1916.61" r="12.9"/>
<circle cx="445.73" cy="1915.77" r="12.9"/>
<circle cx="446.64" cy="1913.04" r="12.9"/>
<circle cx="448.99" cy="1911.7" r="12.9"/>
<circle cx="450.62" cy="1909.68" r="12.9"/>
<circle cx="452.05" cy="1907.46" r="12.9"/>
<circle cx="454.63" cy="1906.34" r="12.9"/>
<circle cx="455.57" cy="1903.64" r="12.9"/>
<circle cx="458.11" cy="1902.49" r="12.9"/>
<circle cx="459.15" cy="1899.89" r="12.9"/>
<circle cx="461.39" cy="1898.44" r="12.9"/>
<circle cx="462.89" cy="1896.29" r="12.9"/>
<circle cx="464.77" cy="1894.5" r="12.9"/>
<circle cx="467.58" cy="1893.61" r="12.9"/>
<circle cx="469.14" cy="1891.51" r="12.9"/>
<circle cx="470.22" cy="1888.95" r="12.9"/>
<circle cx="472.85" cy="1887.89" r="12.9"/>
<circle cx="473.68" cy="1885.08" r="12.9"/>
<circle cx="475.75" cy="1883.47" r="12.9"/>
<circle cx="478.21" cy="1882.24" r="12.9"/>
<circle cx="479.7" cy="1880.08" r="12.9"/>
<circle cx="480.72" cy="1877.46" r="12.9"/>
<circle cx="483.8" cy="1876.83" r="12.9"/>
<circle cx="484.49" cy="1873.88" r="12.9"/>
<circle cx="486.35" cy="1872.08" r="12.9"/>
<circle cx="488.89" cy="1870.93" r="12.9"/>
<circle cx="490.05" cy="1868.44" r="12.9"/>
<circle cx="491.81" cy="1866.53" r="12.9"/>
<circle cx="493.29" cy="1864.36" r="12.9"/>
<circle cx="495.11" cy="1862.51" r="12.9"/>
<circle cx="497.62" cy="1861.33" r="12.9"/>
<circle cx="498.93" cy="1858.99" r="12.9"/>
<circle cx="501.25" cy="1857.62" r="12.9"/>
<circle cx="502.72" cy="1855.43" r="12.9"/>
<circle cx="504.63" cy="1853.68" r="12.9"/>
<circle cx="507.16" cy="1852.52" r="12.9"/>
<circle cx="508.28" cy="1849.99" r="12.9"/>
<circle cx="510.21" cy="1848.25" r="12.9"/>
<circle cx="512.43" cy="1846.79" r="12.9"/>
<circle cx="513.24" cy="1843.97" r="12.9"/>
<circle cx="515" cy="1842.06" r="12.9"/>
<circle cx="517.89" cy="1841.24" r="12.9"/>
<circle cx="519.56" cy="1839.25" r="12.9"/>
<circle cx="520.53" cy="1836.59" r="12.9"/>
<circle cx="522.23" cy="1834.63" r="12.9"/>
<circle cx="524.87" cy="1833.56" r="12.9"/>
<circle cx="527" cy="1832.01" r="12.9"/>
<circle cx="527.61" cy="1829" r="12.9"/>
<circle cx="530.65" cy="1828.33" r="12.9"/>
<circle cx="532.35" cy="1826.37" r="12.9"/>
<circle cx="533.68" cy="1824.05" r="12.9"/>
<circle cx="535.16" cy="1821.87" r="12.9"/>
<circle cx="536.38" cy="1819.45" r="12.9"/>
<circle cx="538.04" cy="1817.45" r="12.9"/>
<circle cx="541.58" cy="1817.25" r="12.9"/>
<circle cx="541.99" cy="1814.05" r="12.9"/>
<circle cx="544.7" cy="1813.06" r="12.9"/>
<circle cx="545.61" cy="1810.33" r="12.9"/>
<circle cx="548.57" cy="1809.58" r="12.9"/>
<circle cx="549.9" cy="1807.27" r="12.9"/>
<circle cx="551.06" cy="1804.78" r="12.9"/>
<circle cx="552.59" cy="1802.66" r="12.9"/>
<circle cx="555.59" cy="1801.94" r="12.9"/>
<circle cx="555.93" cy="1798.67" r="12.9"/>
<circle cx="558.08" cy="1797.14" r="12.9"/>
<circle cx="560.64" cy="1796" r="12.9"/>
<circle cx="563.14" cy="1794.81" r="12.9"/>
<circle cx="564.38" cy="1792.4" r="12.9"/>
<circle cx="565.36" cy="1789.75" r="12.9"/>
<circle cx="568.74" cy="1789.41" r="12.9"/>
<circle cx="568.75" cy="1785.81" r="12.9"/>
<circle cx="570.05" cy="1783.47" r="12.9"/>
<circle cx="572.5" cy="1782.22" r="12.9"/>
<circle cx="574.76" cy="1780.8" r="12.9"/>
<circle cx="575.52" cy="1777.92" r="12.9"/>
<circle cx="577.61" cy="1776.35" r="12.9"/>
<circle cx="579.94" cy="1774.98" r="12.9"/>
<circle cx="582.3" cy="1773.66" r="12.9"/>
<circle cx="582.85" cy="1770.59" r="12.9"/>
<circle cx="585.3" cy="1769.35" r="12.9"/>
<circle cx="588.65" cy="1768.97" r="12.9"/>
<circle cx="590.73" cy="1767.38" r="12.9"/>
<circle cx="591.57" cy="1764.59" r="12.9"/>
<circle cx="593.48" cy="1762.83" r="12.9"/>
<circle cx="594.96" cy="1760.65" r="12.9"/>
<circle cx="595.37" cy="1757.44" r="12.9"/>
<circle cx="596.82" cy="1755.24" r="12.9"/>
<circle cx="598.55" cy="1753.3" r="12.9"/>
<circle cx="603.23" cy="1754.22" r="12.9"/>
<circle cx="604.36" cy="1751.7" r="12.9"/>
<circle cx="607.04" cy="1750.68" r="12.9"/>
<circle cx="605.68" cy="1745.77" r="12.9"/>
<circle cx="609.56" cy="1745.91" r="12.9"/>
<circle cx="610.84" cy="1743.54" r="12.9"/>
<circle cx="613.51" cy="1742.5" r="12.9"/>
<circle cx="613.86" cy="1739.24" r="12.9"/>
<circle cx="618.08" cy="1739.71" r="12.9"/>
<circle cx="616.57" cy="1734.65" r="12.9"/>
<circle cx="620.07" cy="1734.42" r="12.9"/>
<circle cx="622.58" cy="1733.24" r="12.9"/>
<circle cx="625.8" cy="1731.14" r="12.9"/>
<circle cx="627.8" cy="1727.87" r="12.9"/>
<circle cx="630.29" cy="1725.06" r="12.9"/>
<circle cx="633.25" cy="1722.72" r="12.9"/>
<circle cx="636.35" cy="1720.5" r="12.9"/>
<circle cx="636.7" cy="1715.64" r="12.9"/>
<circle cx="640.66" cy="1714.25" r="12.9"/>
<circle cx="644.16" cy="1712.42" r="12.9"/>
<circle cx="646.66" cy="1709.63" r="12.9"/>
<circle cx="647.35" cy="1705.08" r="12.9"/>
<circle cx="651.56" cy="1703.94" r="12.9"/>
<circle cx="654.49" cy="1701.57" r="12.9"/>
<circle cx="655.82" cy="1697.65" r="12.9"/>
<circle cx="658.66" cy="1695.18" r="12.9"/>
<circle cx="660.16" cy="1691.43" r="12.9"/>
<circle cx="663.68" cy="1689.61" r="12.9"/>
<circle cx="666.41" cy="1687.04" r="12.9"/>
<circle cx="666.51" cy="1681.94" r="12.9"/>
<circle cx="671.77" cy="1681.8" r="12.9"/>
<circle cx="676.09" cy="1680.76" r="12.9"/>
<circle cx="678.16" cy="1677.56" r="12.9"/>
<circle cx="680.03" cy="1674.16" r="12.9"/>
<circle cx="680.94" cy="1669.83" r="12.9"/>
<circle cx="685.29" cy="1668.82" r="12.9"/>
<circle cx="687.12" cy="1665.38" r="12.9"/>
<circle cx="688.99" cy="1661.98" r="12.9"/>
<circle cx="693.68" cy="1661.29" r="12.9"/>
<circle cx="692.29" cy="1654.76" r="12.9"/>
<circle cx="698.44" cy="1655.48" r="12.9"/>
<circle cx="697.15" cy="1649.03" r="12.9"/>
<circle cx="702.85" cy="1649.33" r="12.9"/>
<circle cx="704.79" cy="1646" r="12.9"/>
<circle cx="705.99" cy="1641.95" r="12.9"/>
<circle cx="711.22" cy="1641.79" r="12.9"/>
<circle cx="712.68" cy="1637.99" r="12.9"/>
<circle cx="715.96" cy="1635.95" r="12.9"/>
<circle cx="720.35" cy="1634.98" r="12.9"/>
<circle cx="719.06" cy="1628.53" r="12.9"/>
<circle cx="720.2" cy="1624.42" r="12.9"/>
<circle cx="724.51" cy="1623.37" r="12.9"/>
<circle cx="729.38" cy="1622.87" r="12.9"/>
<circle cx="729.08" cy="1617.38" r="12.9"/>
<circle cx="731.46" cy="1614.47" r="12.9"/>
<circle cx="738.63" cy="1616.17" r="12.9"/>
<circle cx="739.71" cy="1612.01" r="12.9"/>
<circle cx="740.93" cy="1607.99" r="12.9"/>
<circle cx="746.41" cy="1608.06" r="12.9"/>
<circle cx="745.38" cy="1601.87" r="12.9"/>
<circle cx="750.18" cy="1601.3" r="12.9"/>
<circle cx="749.72" cy="1595.65" r="12.9"/>
<circle cx="753.84" cy="1594.42" r="12.9"/>
<circle cx="758.95" cy="1594.14" r="12.9"/>
<circle cx="762.29" cy="1592.16" r="12.9"/>
<circle cx="764.69" cy="1589.26" r="12.9"/>
<circle cx="763.91" cy="1583.31" r="12.9"/>
<circle cx="767.87" cy="1581.93" r="12.9"/>
<circle cx="768.62" cy="1577.45" r="12.9"/>
<circle cx="769.94" cy="1573.52" r="12.9"/>
<circle cx="775.07" cy="1573.26" r="12.9"/>
<circle cx="780.11" cy="1572.91" r="12.9"/>
<circle cx="782.81" cy="1570.32" r="12.9"/>
<circle cx="784.43" cy="1566.68" r="12.9"/>
<circle cx="788.79" cy="1565.68" r="12.9"/>
<circle cx="786.45" cy="1558.22" r="12.9"/>
<circle cx="788.24" cy="1554.73" r="12.9"/>
<circle cx="792.93" cy="1554.05" r="12.9"/>
<circle cx="794.2" cy="1550.08" r="12.9"/>
<circle cx="796.32" cy="1546.92" r="12.9"/>
<circle cx="800.44" cy="1545.68" r="12.9"/>
<circle cx="804.67" cy="1544.56" r="12.9"/>
<circle cx="806.25" cy="1540.88" r="12.9"/>
<circle cx="807.45" cy="1536.83" r="12.9"/>
<circle cx="814.18" cy="1538.11" r="12.9"/>
<circle cx="817.93" cy="1536.53" r="12.9"/>
<circle cx="816.32" cy="1529.77" r="12.9"/>
<circle cx="815.87" cy="1524.13" r="12.9"/>
<circle cx="818.09" cy="1521.07" r="12.9"/>
<circle cx="827.55" cy="1524.99" r="12.9"/>
<circle cx="823.32" cy="1515.71" r="12.9"/>
<circle cx="831.43" cy="1518.33" r="12.9"/>
<circle cx="832.89" cy="1514.53" r="12.9"/>
<circle cx="833.29" cy="1509.71" r="12.9"/>
<circle cx="839.97" cy="1510.95" r="12.9"/>
<circle cx="836" cy="1501.91" r="12.9"/>
<circle cx="839.57" cy="1500.16" r="12.9"/>
<circle cx="844.91" cy="1500.1" r="12.9"/>
<circle cx="843.76" cy="1493.79" r="12.9"/>
<circle cx="853.39" cy="1497.87" r="12.9"/>
<circle cx="850.78" cy="1490.15" r="12.9"/>
<circle cx="852.51" cy="1486.62" r="12.9"/>
<circle cx="854.25" cy="1483.09" r="12.9"/>
<circle cx="862.06" cy="1485.41" r="12.9"/>
<circle cx="863.02" cy="1481.13" r="12.9"/>
<circle cx="867.28" cy="1480.04" r="12.9"/>
<circle cx="870.12" cy="1477.57" r="12.9"/>
<circle cx="874.13" cy="1476.24" r="12.9"/>
<circle cx="878.15" cy="1474.91" r="12.9"/>
<circle cx="878.22" cy="1469.78" r="12.9"/>
<circle cx="876.28" cy="1462.69" r="12.9"/>
<circle cx="881.47" cy="1462.49" r="12.9"/>
<circle cx="881.24" cy="1457.08" r="12.9"/>
<circle cx="882.22" cy="1452.82" r="12.9"/>
<circle cx="889.23" cy="1454.37" r="12.9"/>
<circle cx="894.17" cy="1453.93" r="12.9"/>
<circle cx="891.57" cy="1446.22" r="12.9"/>
<circle cx="895.07" cy="1444.39" r="12.9"/>
<circle cx="898.38" cy="1442.38" r="12.9"/>
<circle cx="904.46" cy="1443.03" r="12.9"/>
<circle cx="905.3" cy="1438.65" r="12.9"/>
<circle cx="908.85" cy="1436.86" r="12.9"/>
<circle cx="912.88" cy="1435.55" r="12.9"/>
<circle cx="911.82" cy="1429.32" r="12.9"/>
<circle cx="918.48" cy="1430.53" r="12.9"/>
<circle cx="922.27" cy="1428.98" r="12.9"/>
<circle cx="916.44" cy="1418.16" r="12.9"/>
<circle cx="927.79" cy="1423.9" r="12.9"/>
<circle cx="928.22" cy="1419.11" r="12.9"/>
<circle cx="924.62" cy="1410.44" r="12.9"/>
<circle cx="930.61" cy="1411.01" r="12.9"/>
<circle cx="935.03" cy="1410.07" r="12.9"/>
<circle cx="940.67" cy="1410.3" r="12.9"/>
<circle cx="937.58" cy="1402.12" r="12.9"/>
<circle cx="942.24" cy="1401.41" r="12.9"/>
<circle cx="948.21" cy="1401.96" r="12.9"/>
<circle cx="949.93" cy="1398.42" r="12.9"/>
<circle cx="954.16" cy="1397.3" r="12.9"/>
<circle cx="951.5" cy="1389.52" r="12.9"/>
<circle cx="956.17" cy="1388.83" r="12.9"/>
<circle cx="953.82" cy="1381.35" r="12.9"/>
<circle cx="962.18" cy="1384.21" r="12.9"/>
<circle cx="965.88" cy="1382.57" r="12.9"/>
<circle cx="966.5" cy="1377.97" r="12.9"/>
<circle cx="969.97" cy="1376.11" r="12.9"/>
<circle cx="966.83" cy="1367.88" r="12.9"/>
<circle cx="977.29" cy="1372.76" r="12.9"/>
<circle cx="974.4" cy="1368.7" r="12.9"/>
<circle cx="967.8" cy="1346.4" r="12.9"/>
<circle cx="973.1" cy="1369.4" r="12.9"/>
<circle cx="947.2" cy="1377.6" r="12.9"/>
<circle cx="957.2" cy="1393.4" r="12.9"/>
<circle cx="961.1" cy="1392.6" r="12.9"/>
<circle cx="924.6" cy="1411.6" r="12.9"/>
<circle cx="939" cy="1420.3" r="12.9"/>
<circle cx="896.8" cy="1425" r="12.9"/>
<circle cx="915.8" cy="1430" r="12.9"/>
<circle cx="883.8" cy="1435.3" r="12.9"/>
<circle cx="903.8" cy="1450" r="12.9"/>
<circle cx="873.1" cy="1462" r="12.9"/>
<circle cx="862.5" cy="1483.3" r="12.9"/>
<circle cx="854.5" cy="1505.9" r="12.9"/>
<circle cx="838.5" cy="1504.6" r="12.9"/>
<circle cx="819.8" cy="1520.6" r="12.9"/>
<circle cx="811.8" cy="1536.6" r="12.9"/>
<circle cx="790.5" cy="1544.6" r="12.9"/>
<circle cx="777.2" cy="1551.2" r="12.9"/>
<circle cx="798.5" cy="1568.6" r="12.9"/>
<circle cx="782.5" cy="1571.2" r="12.9"/>
<circle cx="766.5" cy="1579.2" r="12.9"/>
<circle cx="755.9" cy="1595.2" r="12.9"/>
<circle cx="747.9" cy="1613.9" r="12.9"/>
<circle cx="729.2" cy="1608.5" r="12.9"/>
<circle cx="734.5" cy="1619.2" r="12.9"/>
<circle cx="715.9" cy="1643.2" r="12.9"/>
<circle cx="713.2" cy="1632.5" r="12.9"/>
<circle cx="686.6" cy="1648.5" r="12.9"/>
<circle cx="707.9" cy="1656.5" r="12.9"/>
<circle cx="694.6" cy="1661.8" r="12.9"/>
<circle cx="675.9" cy="1675.2" r="12.9"/>
<circle cx="657.2" cy="1683.2" r="12.9"/>
<circle cx="649.3" cy="1696.5" r="12.9"/>
<circle cx="643.9" cy="1715.1" r="12.9"/>
<circle cx="625.3" cy="1709.8" r="12.9"/>
<circle cx="617.3" cy="1728.5" r="12.9"/>
<circle cx="611.9" cy="1741.8" r="12.9"/>
<circle cx="590.6" cy="1757.8" r="12.9"/>
<circle cx="580" cy="1771.1" r="12.9"/>
<circle cx="569.3" cy="1781.8" r="12.9"/>
<circle cx="553.3" cy="1797.8" r="12.9"/>
<circle cx="540" cy="1808.4" r="12.9"/>
<circle cx="524" cy="1824.4" r="12.9"/>
<circle cx="510.7" cy="1840.4" r="12.9"/>
</g>
<polyline points="1414.5,247 2301,974.5" fill="none" stroke="#000" stroke-width="3.8" stroke-linejoin="round" stroke-linecap="butt"/>
<g fill="#000">
<circle cx="1626.3" cy="421.9" r="12.9"/>
<circle cx="1782.7" cy="556.6" r="12.9"/>
<circle cx="1849.9" cy="604" r="12.9"/>
<circle cx="1917.7" cy="663.4" r="12.9"/>
<circle cx="1974.8" cy="706.8" r="12.9"/>
<circle cx="2017.8" cy="742.1" r="12.9"/>
<circle cx="2058.7" cy="776.5" r="12.9"/>
<circle cx="2094.3" cy="805.7" r="12.9"/>
<circle cx="2125.6" cy="828.1" r="12.9"/>
<circle cx="2150.6" cy="853.9" r="12.9"/>
<circle cx="2178.1" cy="880.5" r="12.9"/>
</g>
<polyline points="1433,1742 1442,1760 1446,1780 1450,1794 1454,1807 1461,1823 1469,1840 1477,1854 1487,1866 1503,1881.5 1524,1901 1545,1918.5 1565.3,1932 1587.8,1945.2 1615.9,1959.04 1644,1972.88 1672,1984.72 1700.1,1995.06 1728.2,2005.21 1756.2,2014.25 1791,2023 1830.7,2031.1 1891.4,2044 1952.1,2055 2010,2064 2064.6,2074 2139.3,2084 2213.9,2091 2288,2098 2331,2101.5" fill="none" stroke="#F20000" stroke-width="1.5" stroke-linejoin="round" stroke-linecap="round" stroke-dasharray="1.5,5"/>
<g fill="#F20000">
<rect x="1426.3" y="1739.1" width="14" height="11"/>
<rect x="1435" y="1754.5" width="14" height="11"/>
<rect x="1439.17" y="1775.08" width="14" height="11"/>
<rect x="1445.07" y="1795.23" width="14" height="11"/>
<rect x="1452.79" y="1814.73" width="14" height="11"/>
<rect x="1461.65" y="1833.77" width="14" height="11"/>
<rect x="1472.6" y="1851.62" width="14" height="11"/>
<rect x="1486.78" y="1867.07" width="14" height="11"/>
<rect x="1501.99" y="1881.56" width="14" height="11"/>
<rect x="1517.39" y="1895.83" width="14" height="11"/>
<rect x="1533.52" y="1909.27" width="14" height="11"/>
<rect x="1550.64" y="1921.4" width="14" height="11"/>
<rect x="1568.47" y="1932.47" width="14" height="11"/>
<rect x="1586.82" y="1942.66" width="14" height="11"/>
<rect x="1605.66" y="1951.94" width="14" height="11"/>
<rect x="1624.5" y="1961.22" width="14" height="11"/>
<rect x="1643.5" y="1970.13" width="14" height="11"/>
<rect x="1662.85" y="1978.31" width="14" height="11"/>
<rect x="1682.51" y="1985.67" width="14" height="11"/>
<rect x="1702.24" y="1992.86" width="14" height="11"/>
<rect x="1722" y="1999.97" width="14" height="11"/>
<rect x="1741.99" y="2006.42" width="14" height="11"/>
<rect x="1762.22" y="2012.02" width="14" height="11"/>
<rect x="1784.2" y="2019.5" width="14" height="11"/>
<rect x="1804.9" y="2023.7" width="14" height="11"/>
<rect x="1824.3" y="2027.4" width="14" height="11"/>
<rect x="1843.7" y="2030.4" width="14" height="11"/>
<rect x="1866.2" y="2035.9" width="14" height="11"/>
<rect x="1885.6" y="2040.1" width="14" height="11"/>
<rect x="1905.6" y="2043.2" width="14" height="11"/>
<rect x="1925.7" y="2046.2" width="14" height="11"/>
<rect x="1948.1" y="2051.6" width="14" height="11"/>
<rect x="1968.2" y="2054.7" width="14" height="11"/>
<rect x="1988.8" y="2057.7" width="14" height="11"/>
<rect x="2009.17" y="2059.63" width="14" height="11"/>
<rect x="2029.34" y="2063.32" width="14" height="11"/>
<rect x="2049.5" y="2067.02" width="14" height="11"/>
<rect x="2069.76" y="2070.13" width="14" height="11"/>
<rect x="2090.08" y="2072.85" width="14" height="11"/>
<rect x="2110.4" y="2075.57" width="14" height="11"/>
<rect x="2130.72" y="2078.29" width="14" height="11"/>
<rect x="2151.12" y="2080.27" width="14" height="11"/>
<rect x="2171.53" y="2082.18" width="14" height="11"/>
<rect x="2191.94" y="2084.1" width="14" height="11"/>
<rect x="2212.35" y="2086.01" width="14" height="11"/>
<rect x="2232.76" y="2087.94" width="14" height="11"/>
<rect x="2253.17" y="2089.87" width="14" height="11"/>
<rect x="2273.58" y="2091.8" width="14" height="11"/>
<rect x="2294" y="2093.56" width="14" height="11"/>
<rect x="2314.43" y="2095.22" width="14" height="11"/>
</g>
<polyline points="1433,1745 1442,1763 1446,1783 1450,1797 1454,1810 1461,1826 1469,1843 1477,1857 1487,1869 1503,1884.5 1524,1904 1545,1921.5 1565.3,1935 1587.8,1948.2 1615.9,1961.5 1644,1974.5 1672,1985.5 1700.1,1995 1728.2,2004.3 1756.2,2012.5 1791,2020.5 1830.7,2028.6 1891.4,2041.5 1952.1,2052.5 2010,2061.5 2064.6,2071.5 2139.3,2081.5 2213.9,2088.5 2288,2095.5 2331,2099" fill="none" stroke="#F20000" stroke-width="7" stroke-linejoin="round" stroke-linecap="round"/>
<polyline points="1434,1786 1437.3,1807.3 1445.3,1826 1452.6,1848.6 1463.3,1865.9 1477.4,1888.7 1492.4,1909.3 1512.9,1927.1 1532.6,1940.2 1555,1951.4 1573.8,1959.8 1597.2,1968.3 1614.9,1973.9 1637.4,1980.4 1657,1984.2 1677.6,1987.9 1697.3,1991.7 1718.8,1995.4 1737.5,1999.1 1760,2001 1779.1,2003.7 1801.6,2006.5 1821.6,2008.6 1842.8,2009.8 1861,2012.2 1882.3,2014.7 1903.5,2016.5 1923.6,2017.7 1943,2018.9 1964.8,2020.1 1984.3,2021.1 2004.3,2022 2064.6,2024.5 2139.3,2027 2213.9,2029 2288.5,2030.5 2331,2031" fill="none" stroke="#0000C8" stroke-width="1.5" stroke-linejoin="round" stroke-linecap="round" stroke-dasharray="1.5,5"/>
<g fill="#0000C8">
<rect x="1427" y="1780.5" width="14" height="11"/>
<rect x="1430.3" y="1801.8" width="14" height="11"/>
<rect x="1438.3" y="1820.5" width="14" height="11"/>
<rect x="1445.6" y="1843.1" width="14" height="11"/>
<rect x="1456.3" y="1860.4" width="14" height="11"/>
<rect x="1470.4" y="1883.2" width="14" height="11"/>
<rect x="1485.4" y="1903.8" width="14" height="11"/>
<rect x="1505.9" y="1921.6" width="14" height="11"/>
<rect x="1525.6" y="1934.7" width="14" height="11"/>
<rect x="1548" y="1945.9" width="14" height="11"/>
<rect x="1566.8" y="1954.3" width="14" height="11"/>
<rect x="1590.2" y="1962.8" width="14" height="11"/>
<rect x="1607.9" y="1968.4" width="14" height="11"/>
<rect x="1630.4" y="1974.9" width="14" height="11"/>
<rect x="1650" y="1978.7" width="14" height="11"/>
<rect x="1670.6" y="1982.4" width="14" height="11"/>
<rect x="1690.3" y="1986.2" width="14" height="11"/>
<rect x="1711.8" y="1989.9" width="14" height="11"/>
<rect x="1730.5" y="1993.6" width="14" height="11"/>
<rect x="1753" y="1995.5" width="14" height="11"/>
<rect x="1772.1" y="1998.2" width="14" height="11"/>
<rect x="1794.6" y="2001" width="14" height="11"/>
<rect x="1814.6" y="2003.1" width="14" height="11"/>
<rect x="1835.8" y="2004.3" width="14" height="11"/>
<rect x="1854" y="2006.7" width="14" height="11"/>
<rect x="1875.3" y="2009.2" width="14" height="11"/>
<rect x="1896.5" y="2011" width="14" height="11"/>
<rect x="1916.6" y="2012.2" width="14" height="11"/>
<rect x="1936" y="2013.4" width="14" height="11"/>
<rect x="1957.8" y="2014.6" width="14" height="11"/>
<rect x="1977.3" y="2015.6" width="14" height="11"/>
<rect x="1997.3" y="2016.5" width="14" height="11"/>
<rect x="2017.78" y="2017.35" width="14" height="11"/>
<rect x="2038.26" y="2018.2" width="14" height="11"/>
<rect x="2058.75" y="2019.04" width="14" height="11"/>
<rect x="2079.24" y="2019.72" width="14" height="11"/>
<rect x="2099.72" y="2020.41" width="14" height="11"/>
<rect x="2120.21" y="2021.1" width="14" height="11"/>
<rect x="2140.7" y="2021.73" width="14" height="11"/>
<rect x="2161.2" y="2022.27" width="14" height="11"/>
<rect x="2181.69" y="2022.82" width="14" height="11"/>
<rect x="2202.18" y="2023.37" width="14" height="11"/>
<rect x="2222.68" y="2023.82" width="14" height="11"/>
<rect x="2243.17" y="2024.23" width="14" height="11"/>
<rect x="2263.67" y="2024.64" width="14" height="11"/>
<rect x="2284.16" y="2025.03" width="14" height="11"/>
<rect x="2304.66" y="2025.27" width="14" height="11"/>
</g>
<polyline points="1432.7,1807.3 1436.7,1827.2 1446,1850 1456.6,1870 1471.8,1889.5 1494.2,1914.5 1522.3,1941.5 1559.7,1961.7 1597.2,1976.7 1634.6,1987.9 1672,1995.4 1709.5,2002 1746.9,2006.6 1790,2010.5 1891.4,2019 2010,2026.5 2064.6,2029.5 2139.3,2032 2213.9,2034 2288.5,2035.5 2331.4,2036.2" fill="none" stroke="#0000C8" stroke-width="7" stroke-linejoin="round" stroke-linecap="round"/>
<polyline points="1433.3,1698.6 1442,1723.1 1450,1741.8 1458,1761.8 1470,1781.8 1484.6,1799.1 1503.3,1816.5 1523.3,1829.7 1543.3,1840.4 1563.3,1849.7 1583.2,1857.7 1609.9,1865.7 1636.5,1873.7 1660,1879 1687.3,1885.8 1724.6,1893.3 1761.9,1899.8 1799.3,1904.5 1836.6,1908.2 1873.9,1911.9 1911.2,1915.7 1948.5,1918.5 2000,1921.3 2064.6,1926.9 2139.3,1931.6 2213.9,1935.3 2288.5,1938.1 2331.4,1939.1" fill="none" stroke="#44FF00" stroke-width="1.5" stroke-linejoin="round" stroke-linecap="round" stroke-dasharray="1.5,5"/>
<g fill="#44FF00">
<rect x="1426.3" y="1693.1" width="14" height="11"/>
<rect x="1433.26" y="1712.7" width="14" height="11"/>
<rect x="1441.14" y="1731.94" width="14" height="11"/>
<rect x="1448.97" y="1751.21" width="14" height="11"/>
<rect x="1458.88" y="1769.44" width="14" height="11"/>
<rect x="1471.25" y="1786.08" width="14" height="11"/>
<rect x="1485.62" y="1801.07" width="14" height="11"/>
<rect x="1501.49" y="1814.42" width="14" height="11"/>
<rect x="1518.99" y="1825.64" width="14" height="11"/>
<rect x="1537.36" y="1835.39" width="14" height="11"/>
<rect x="1556.22" y="1844.16" width="14" height="11"/>
<rect x="1575.52" y="1851.93" width="14" height="11"/>
<rect x="1595.42" y="1857.96" width="14" height="11"/>
<rect x="1615.34" y="1863.94" width="14" height="11"/>
<rect x="1635.37" y="1869.52" width="14" height="11"/>
<rect x="1655.65" y="1874.16" width="14" height="11"/>
<rect x="1675.83" y="1879.19" width="14" height="11"/>
<rect x="1696.17" y="1883.49" width="14" height="11"/>
<rect x="1716.57" y="1887.59" width="14" height="11"/>
<rect x="1737.05" y="1891.19" width="14" height="11"/>
<rect x="1757.56" y="1894.63" width="14" height="11"/>
<rect x="1778.2" y="1897.23" width="14" height="11"/>
<rect x="1798.86" y="1899.65" width="14" height="11"/>
<rect x="1819.56" y="1901.7" width="14" height="11"/>
<rect x="1840.25" y="1903.76" width="14" height="11"/>
<rect x="1860.95" y="1905.81" width="14" height="11"/>
<rect x="1881.65" y="1907.9" width="14" height="11"/>
<rect x="1902.34" y="1910.01" width="14" height="11"/>
<rect x="1923.08" y="1911.62" width="14" height="11"/>
<rect x="1943.82" y="1913.13" width="14" height="11"/>
<rect x="1964.59" y="1914.26" width="14" height="11"/>
<rect x="1985.36" y="1915.38" width="14" height="11"/>
<rect x="2006.1" y="1916.94" width="14" height="11"/>
<rect x="2026.82" y="1918.73" width="14" height="11"/>
<rect x="2047.55" y="1920.53" width="14" height="11"/>
<rect x="2068.29" y="1922.07" width="14" height="11"/>
<rect x="2089.05" y="1923.38" width="14" height="11"/>
<rect x="2109.8" y="1924.68" width="14" height="11"/>
<rect x="2130.56" y="1925.99" width="14" height="11"/>
<rect x="2151.34" y="1927.04" width="14" height="11"/>
<rect x="2172.11" y="1928.07" width="14" height="11"/>
<rect x="2192.89" y="1929.1" width="14" height="11"/>
<rect x="2213.66" y="1930.05" width="14" height="11"/>
<rect x="2234.45" y="1930.83" width="14" height="11"/>
<rect x="2255.23" y="1931.61" width="14" height="11"/>
<rect x="2276.02" y="1932.39" width="14" height="11"/>
<rect x="2296.81" y="1932.96" width="14" height="11"/>
<rect x="2317.61" y="1933.44" width="14" height="11"/>
</g>
<polyline points="1434,1703.5 1442,1726.1 1450,1744.8 1458,1764.8 1470,1784.8 1484.6,1802.1 1503.3,1819.5 1523.3,1832.7 1543.3,1843.4 1563.3,1852.7 1583.2,1860.7 1609.9,1868.7 1636.5,1876.7 1660,1882 1687.3,1888.8 1724.6,1896.3 1761.9,1902.8 1799.3,1907.5 1836.6,1911.2 1873.9,1914.9 1911.2,1918.7 1948.5,1921.5 2000,1924.3 2064.6,1929.9 2139.3,1934.6 2213.9,1938.3 2288.5,1941.1 2331.4,1942.1" fill="none" stroke="#44FF00" stroke-width="7" stroke-linejoin="round" stroke-linecap="round"/>
<polyline points="1435.1,1629.2 1452.4,1649.2 1466,1666.5 1484,1686 1500,1703.9 1510.7,1719.9 1521.3,1732.7 1532,1741.2 1548,1751.9 1564,1758.3 1596.6,1769 1623.2,1777 1649.9,1784 1687.3,1791 1724.6,1797.5 1761.9,1802.2 1799.3,1806 1836.6,1809.7 1873.9,1813.4 1911.2,1815.3 1948.5,1817.1 2000,1820 2064.6,1822.8 2139.3,1825.6 2213.9,1828.4 2288.5,1830.3 2331.4,1831.2" fill="none" stroke="#F57400" stroke-width="1.5" stroke-linejoin="round" stroke-linecap="round" stroke-dasharray="1.5,5"/>
<g fill="#F57400">
<rect x="1428.1" y="1623.7" width="14" height="11"/>
<rect x="1445.4" y="1643.7" width="14" height="11"/>
<rect x="1459" y="1661" width="14" height="11"/>
<rect x="1477" y="1680.5" width="14" height="11"/>
<rect x="1491" y="1696.16" width="14" height="11"/>
<rect x="1503" y="1713.36" width="14" height="11"/>
<rect x="1516.75" y="1729.14" width="14" height="11"/>
<rect x="1533.69" y="1741.51" width="14" height="11"/>
<rect x="1552.34" y="1750.93" width="14" height="11"/>
<rect x="1572.18" y="1757.78" width="14" height="11"/>
<rect x="1592.15" y="1764.27" width="14" height="11"/>
<rect x="1612.26" y="1770.32" width="14" height="11"/>
<rect x="1632.54" y="1775.78" width="14" height="11"/>
<rect x="1653.01" y="1780.39" width="14" height="11"/>
<rect x="1673.65" y="1784.26" width="14" height="11"/>
<rect x="1694.33" y="1787.94" width="14" height="11"/>
<rect x="1715.02" y="1791.55" width="14" height="11"/>
<rect x="1735.83" y="1794.3" width="14" height="11"/>
<rect x="1756.67" y="1796.88" width="14" height="11"/>
<rect x="1777.56" y="1799" width="14" height="11"/>
<rect x="1798.46" y="1801.11" width="14" height="11"/>
<rect x="1819.36" y="1803.18" width="14" height="11"/>
<rect x="1840.25" y="1805.26" width="14" height="11"/>
<rect x="1861.15" y="1807.33" width="14" height="11"/>
<rect x="1882.1" y="1808.67" width="14" height="11"/>
<rect x="1903.08" y="1809.74" width="14" height="11"/>
<rect x="1924.05" y="1810.76" width="14" height="11"/>
<rect x="1945.03" y="1811.8" width="14" height="11"/>
<rect x="1965.99" y="1812.98" width="14" height="11"/>
<rect x="1986.96" y="1814.16" width="14" height="11"/>
<rect x="2007.94" y="1815.15" width="14" height="11"/>
<rect x="2028.92" y="1816.06" width="14" height="11"/>
<rect x="2049.9" y="1816.97" width="14" height="11"/>
<rect x="2070.88" y="1817.8" width="14" height="11"/>
<rect x="2091.86" y="1818.58" width="14" height="11"/>
<rect x="2112.85" y="1819.37" width="14" height="11"/>
<rect x="2133.84" y="1820.16" width="14" height="11"/>
<rect x="2154.82" y="1820.95" width="14" height="11"/>
<rect x="2175.81" y="1821.73" width="14" height="11"/>
<rect x="2196.79" y="1822.52" width="14" height="11"/>
<rect x="2217.78" y="1823.18" width="14" height="11"/>
<rect x="2238.77" y="1823.71" width="14" height="11"/>
<rect x="2259.77" y="1824.25" width="14" height="11"/>
<rect x="2280.76" y="1824.78" width="14" height="11"/>
<rect x="2301.75" y="1825.22" width="14" height="11"/>
<rect x="2322.75" y="1825.67" width="14" height="11"/>
</g>
<polyline points="1432.7,1707.3 1442,1716.6 1456.6,1712.6 1470,1700.6 1478,1696.5 1486,1697 1496.6,1706 1511.3,1722 1530,1740.6 1550,1754 1570,1763.3 1596.6,1773.5 1623.2,1781.5 1649.9,1788.5 1687.3,1795.5 1724.6,1802 1761.9,1806.7 1799.3,1810.5 1836.6,1814.2 1873.9,1817.9 1911.2,1819.8 1948.5,1821.6 2000,1824.5 2064.6,1827.3 2139.3,1830.1 2213.9,1832.9 2288.5,1834.8 2331.4,1835.7" fill="none" stroke="#F57400" stroke-width="7" stroke-linejoin="round" stroke-linecap="round"/>
<polyline points="1435.1,1570.6 1456.9,1585.2 1477.3,1599.9 1494.6,1620.6 1503,1636 1516,1654 1526.7,1672.1 1542.6,1694.5 1558.6,1714.7 1574.6,1732.8 1590.6,1746.7 1601.3,1755.2 1623.2,1774.6 1650,1792 1687.3,1808.8 1724.6,1825.6 1761.9,1838.7 1799.3,1849.9 1836.6,1860.1 1873.9,1868.5 1911.2,1876 1948.5,1881.6 1990,1889.1 2064.6,1898.4 2139.3,1905.9 2213.9,1913.4 2288.5,1919 2331.4,1921.8" fill="none" stroke="#000000" stroke-width="1.5" stroke-linejoin="round" stroke-linecap="round" stroke-dasharray="1.5,5"/>
<g fill="#000000">
<rect x="1428.1" y="1565.1" width="14" height="11"/>
<rect x="1449.9" y="1579.7" width="14" height="11"/>
<rect x="1470.3" y="1594.4" width="14" height="11"/>
<rect x="1487.6" y="1615.1" width="14" height="11"/>
<rect x="1493.29" y="1631.51" width="14" height="11"/>
<rect x="1506.43" y="1644.08" width="14" height="11"/>
<rect x="1517.09" y="1662.18" width="14" height="11"/>
<rect x="1528.88" y="1679.53" width="14" height="11"/>
<rect x="1541.43" y="1696.36" width="14" height="11"/>
<rect x="1554.66" y="1712.66" width="14" height="11"/>
<rect x="1568.71" y="1728.26" width="14" height="11"/>
<rect x="1584.6" y="1741.99" width="14" height="11"/>
<rect x="1600.74" y="1755.41" width="14" height="11"/>
<rect x="1616.49" y="1769.29" width="14" height="11"/>
<rect x="1634.11" y="1780.73" width="14" height="11"/>
<rect x="1652.48" y="1790.77" width="14" height="11"/>
<rect x="1671.63" y="1799.39" width="14" height="11"/>
<rect x="1690.77" y="1808.02" width="14" height="11"/>
<rect x="1709.92" y="1816.64" width="14" height="11"/>
<rect x="1729.47" y="1824.27" width="14" height="11"/>
<rect x="1749.28" y="1831.23" width="14" height="11"/>
<rect x="1769.31" y="1837.52" width="14" height="11"/>
<rect x="1789.43" y="1843.54" width="14" height="11"/>
<rect x="1809.67" y="1849.15" width="14" height="11"/>
<rect x="1829.93" y="1854.67" width="14" height="11"/>
<rect x="1850.41" y="1859.29" width="14" height="11"/>
<rect x="1870.92" y="1863.81" width="14" height="11"/>
<rect x="1891.51" y="1867.95" width="14" height="11"/>
<rect x="1912.16" y="1871.7" width="14" height="11"/>
<rect x="1932.93" y="1874.81" width="14" height="11"/>
<rect x="1953.64" y="1878.29" width="14" height="11"/>
<rect x="1974.3" y="1882.03" width="14" height="11"/>
<rect x="1995.07" y="1885.1" width="14" height="11"/>
<rect x="2015.91" y="1887.7" width="14" height="11"/>
<rect x="2036.75" y="1890.3" width="14" height="11"/>
<rect x="2057.59" y="1892.9" width="14" height="11"/>
<rect x="2078.48" y="1895" width="14" height="11"/>
<rect x="2099.38" y="1897.09" width="14" height="11"/>
<rect x="2120.27" y="1899.19" width="14" height="11"/>
<rect x="2141.17" y="1901.29" width="14" height="11"/>
<rect x="2162.06" y="1903.39" width="14" height="11"/>
<rect x="2182.96" y="1905.49" width="14" height="11"/>
<rect x="2203.85" y="1907.59" width="14" height="11"/>
<rect x="2224.78" y="1909.24" width="14" height="11"/>
<rect x="2245.73" y="1910.81" width="14" height="11"/>
<rect x="2266.67" y="1912.39" width="14" height="11"/>
<rect x="2287.61" y="1913.9" width="14" height="11"/>
<rect x="2308.57" y="1915.27" width="14" height="11"/>
</g>
<polyline points="1432,1762 1443.3,1772.6 1454,1766 1460.6,1751.3 1467.3,1730 1474,1703.3 1482,1676.7 1491.3,1646.5 1497,1638 1502,1636.5 1507,1640.5 1516,1656 1526.7,1674.1 1542.6,1696.5 1558.6,1716.7 1574.6,1734.8 1590.6,1748.7 1601.3,1757.2 1623.2,1776.6 1650,1794 1687.3,1810.8 1724.6,1827.6 1761.9,1840.7 1799.3,1851.9 1836.6,1862.1 1873.9,1870.5 1911.2,1878 1948.5,1883.6 1990,1891.1 2064.6,1900.4 2139.3,1907.9 2213.9,1915.4 2288.5,1921 2331.4,1923.8" fill="none" stroke="#000000" stroke-width="7" stroke-linejoin="round" stroke-linecap="round"/>
<polyline points="1435.1,1525.3 1455,1535.3 1472.6,1546.6 1489.3,1561.9 1503.2,1579.2 1514.4,1601.6 1526.7,1620.8 1541.6,1642.6 1556,1661.3 1574.6,1679.4 1596.5,1697.5 1616.2,1710.9 1637.5,1722 1658.3,1729.5 1678.6,1737.5 1697.2,1742.3 1719,1749.3 1739.6,1753.9 1761,1758.6 1801.1,1763.2 1821.6,1767 1843.1,1769.8 1863.6,1772.6 1883.2,1774.4 1904.7,1776.9 1924.3,1778.2 1945.7,1781 1965.3,1782.5 1985.8,1783.2 2008.7,1785.7 2083.3,1790.7 2157.9,1795 2232.5,1797.8 2314.6,1800.1 2331,1800.5" fill="none" stroke="#5CE0FF" stroke-width="1.5" stroke-linejoin="round" stroke-linecap="round" stroke-dasharray="1.5,5"/>
<g fill="#5CE0FF">
<rect x="1428.1" y="1519.8" width="14" height="11"/>
<rect x="1448" y="1529.8" width="14" height="11"/>
<rect x="1465.6" y="1541.1" width="14" height="11"/>
<rect x="1482.3" y="1556.4" width="14" height="11"/>
<rect x="1496.2" y="1573.7" width="14" height="11"/>
<rect x="1507.4" y="1596.1" width="14" height="11"/>
<rect x="1519.7" y="1615.3" width="14" height="11"/>
<rect x="1534.6" y="1637.1" width="14" height="11"/>
<rect x="1549" y="1655.8" width="14" height="11"/>
<rect x="1567.6" y="1673.9" width="14" height="11"/>
<rect x="1589.5" y="1692" width="14" height="11"/>
<rect x="1609.2" y="1705.4" width="14" height="11"/>
<rect x="1630.5" y="1716.5" width="14" height="11"/>
<rect x="1651.3" y="1724" width="14" height="11"/>
<rect x="1671.6" y="1732" width="14" height="11"/>
<rect x="1690.2" y="1736.8" width="14" height="11"/>
<rect x="1712" y="1743.8" width="14" height="11"/>
<rect x="1732.6" y="1748.4" width="14" height="11"/>
<rect x="1754" y="1753.1" width="14" height="11"/>
<rect x="1794.1" y="1757.7" width="14" height="11"/>
<rect x="1814.6" y="1761.5" width="14" height="11"/>
<rect x="1836.1" y="1764.3" width="14" height="11"/>
<rect x="1856.6" y="1767.1" width="14" height="11"/>
<rect x="1876.2" y="1768.9" width="14" height="11"/>
<rect x="1897.7" y="1771.4" width="14" height="11"/>
<rect x="1917.3" y="1772.7" width="14" height="11"/>
<rect x="1938.7" y="1775.5" width="14" height="11"/>
<rect x="1958.3" y="1777" width="14" height="11"/>
<rect x="1978.8" y="1777.7" width="14" height="11"/>
<rect x="1999.18" y="1779.92" width="14" height="11"/>
<rect x="2019.62" y="1781.4" width="14" height="11"/>
<rect x="2040.08" y="1782.77" width="14" height="11"/>
<rect x="2060.53" y="1784.14" width="14" height="11"/>
<rect x="2080.99" y="1785.47" width="14" height="11"/>
<rect x="2101.45" y="1786.65" width="14" height="11"/>
<rect x="2121.92" y="1787.83" width="14" height="11"/>
<rect x="2142.39" y="1789.01" width="14" height="11"/>
<rect x="2162.86" y="1789.95" width="14" height="11"/>
<rect x="2183.35" y="1790.72" width="14" height="11"/>
<rect x="2203.84" y="1791.49" width="14" height="11"/>
<rect x="2224.32" y="1792.26" width="14" height="11"/>
<rect x="2244.81" y="1792.84" width="14" height="11"/>
<rect x="2265.3" y="1793.42" width="14" height="11"/>
<rect x="2285.8" y="1793.99" width="14" height="11"/>
<rect x="2306.29" y="1794.56" width="14" height="11"/>
</g>
<polyline points="1435.3,1722 1444.6,1722.6 1454,1716.6 1463.3,1703.3 1468.6,1690 1471.3,1676.7 1476.6,1656.7 1479.3,1619.9 1485,1600 1490,1588 1496,1580 1500,1592.5 1509.2,1608.4 1518.8,1624.3 1528.4,1637.1 1541.2,1653.1 1554,1666 1566.7,1681 1574.6,1687.9 1585.3,1697.5 1595.9,1705 1606.6,1712.5 1617.3,1719.9 1627.9,1726.3 1638.6,1731.6 1649.3,1737 1659.9,1741.2 1670.6,1745.5 1681.2,1748.7 1700,1754.5 1724.6,1763 1761.9,1773 1799.3,1780.5 1836.6,1786.5 1873.9,1791.5 1911.2,1795 1948.5,1797.8 2000,1800.6 2064.6,1803.4 2139.3,1807.2 2213.9,1810 2288.5,1811.8 2331.4,1812.8" fill="none" stroke="#5CE0FF" stroke-width="7" stroke-linejoin="round" stroke-linecap="round"/>
<polyline points="1435.1,1430.4 1456,1433.7 1476.4,1438.7 1496.9,1446.3 1517.3,1458.6 1537.9,1475.3 1554.3,1496.6 1568.6,1517.3 1581.9,1535.9 1594.6,1558.6 1605.9,1577.9 1619,1600.6 1631.5,1618.6 1645.9,1639.9 1657.2,1657.2 1670.6,1671.9 1681.2,1684.7 1691.9,1695.4 1706,1708.2 1724.6,1723.1 1743.3,1738.1 1761.9,1749.3 1780.6,1759.5 1799.3,1769.8 1817.9,1779.1 1836.6,1788.4 1855.2,1795.9 1884.1,1805.2 1903.7,1811.8 1925.2,1818.3 1943.8,1824.8 1964.9,1829.9 1985.8,1836.9 2006.8,1840.7 2026.4,1846.3 2047.8,1851.9 2068.4,1856.6 2088.9,1860.9 2107.5,1864.1 2129,1868.7 2150.4,1872.8 2170,1877.1 2189.6,1879.6 2211.1,1883.7 2231.6,1887 2251.2,1890.2 2271.7,1893 2292.2,1895.8 2314.6,1899" fill="none" stroke="#E4006E" stroke-width="1.5" stroke-linejoin="round" stroke-linecap="round" stroke-dasharray="1.5,5"/>
<g fill="#E4006E">
<rect x="1428.1" y="1424.9" width="14" height="11"/>
<rect x="1449" y="1428.2" width="14" height="11"/>
<rect x="1469.4" y="1433.2" width="14" height="11"/>
<rect x="1489.9" y="1440.8" width="14" height="11"/>
<rect x="1510.3" y="1453.1" width="14" height="11"/>
<rect x="1530.9" y="1469.8" width="14" height="11"/>
<rect x="1547.3" y="1491.1" width="14" height="11"/>
<rect x="1561.6" y="1511.8" width="14" height="11"/>
<rect x="1574.9" y="1530.4" width="14" height="11"/>
<rect x="1587.6" y="1553.1" width="14" height="11"/>
<rect x="1598.9" y="1572.4" width="14" height="11"/>
<rect x="1612" y="1595.1" width="14" height="11"/>
<rect x="1624.5" y="1613.1" width="14" height="11"/>
<rect x="1638.9" y="1634.4" width="14" height="11"/>
<rect x="1650.2" y="1651.7" width="14" height="11"/>
<rect x="1664.31" y="1667.25" width="14" height="11"/>
<rect x="1678.08" y="1683.08" width="14" height="11"/>
<rect x="1693.31" y="1697.53" width="14" height="11"/>
<rect x="1709.39" y="1711.02" width="14" height="11"/>
<rect x="1725.78" y="1724.16" width="14" height="11"/>
<rect x="1742.73" y="1736.47" width="14" height="11"/>
<rect x="1760.87" y="1747.06" width="14" height="11"/>
<rect x="1779.29" y="1757.13" width="14" height="11"/>
<rect x="1797.8" y="1767.05" width="14" height="11"/>
<rect x="1816.59" y="1776.43" width="14" height="11"/>
<rect x="1835.6" y="1785.32" width="14" height="11"/>
<rect x="1877.1" y="1799.7" width="14" height="11"/>
<rect x="1896.7" y="1806.3" width="14" height="11"/>
<rect x="1918.2" y="1812.8" width="14" height="11"/>
<rect x="1936.8" y="1819.3" width="14" height="11"/>
<rect x="1957.9" y="1824.4" width="14" height="11"/>
<rect x="1978.8" y="1831.4" width="14" height="11"/>
<rect x="1999.8" y="1835.2" width="14" height="11"/>
<rect x="2019.4" y="1840.8" width="14" height="11"/>
<rect x="2040.8" y="1846.4" width="14" height="11"/>
<rect x="2061.4" y="1851.1" width="14" height="11"/>
<rect x="2081.9" y="1855.4" width="14" height="11"/>
<rect x="2100.5" y="1858.6" width="14" height="11"/>
<rect x="2122" y="1863.2" width="14" height="11"/>
<rect x="2143.4" y="1867.3" width="14" height="11"/>
<rect x="2163" y="1871.6" width="14" height="11"/>
<rect x="2182.6" y="1874.1" width="14" height="11"/>
<rect x="2204.1" y="1878.2" width="14" height="11"/>
<rect x="2224.6" y="1881.5" width="14" height="11"/>
<rect x="2244.2" y="1884.7" width="14" height="11"/>
<rect x="2264.7" y="1887.5" width="14" height="11"/>
<rect x="2285.2" y="1890.3" width="14" height="11"/>
<rect x="2307.6" y="1893.5" width="14" height="11"/>
</g>
<polyline points="1431.3,1696.6 1438,1701 1444.6,1702 1452,1700 1460.6,1694 1466,1686 1470,1676.7 1474,1668 1479.3,1656.7 1483.5,1626.6 1487.8,1604 1492.5,1582.6 1498.8,1555 1501.5,1530 1503.3,1513.3 1506.6,1466 1509,1463 1516.6,1466.6 1526,1472 1537.9,1479 1554.3,1499.5 1568.6,1520 1581.9,1538.5 1594.9,1560 1606.6,1578.1 1617.3,1595.2 1627.9,1613.3 1638.6,1632.5 1649.3,1647.4 1659.9,1659.1 1670.6,1671.9 1681.2,1684.7 1691.9,1695.4 1706,1708.2 1724.6,1723.1 1743.3,1738.1 1761.9,1749.3 1780.6,1759.5 1799.3,1769.8 1817.9,1779.1 1836.6,1788.4 1855.2,1795.9 1873.9,1805.2" fill="none" stroke="#E4006E" stroke-width="7" stroke-linejoin="round" stroke-linecap="round"/>
<rect x="1869.5" y="1304.5" width="441" height="268" fill="#fff" stroke="#000" stroke-width="3"/>
<g font-family="'Liberation Sans', Arial, Helvetica, sans-serif" font-size="30.3" stroke="#000" stroke-width="0.9" stroke-linejoin="round">
<rect x="1885" y="1330.6" width="13" height="10.6" fill="#F20000" stroke="none"/>
<rect x="1905.5" y="1330.6" width="13" height="10.6" fill="#F20000" stroke="none"/>
<rect x="1926" y="1330.6" width="13" height="10.6" fill="#F20000" stroke="none"/>
<rect x="1946.5" y="1330.6" width="13" height="10.6" fill="#F20000" stroke="none"/>
<rect x="1967" y="1330.6" width="13" height="10.6" fill="#F20000" stroke="none"/>
<text transform="translate(1985.5,1346.7) scale(1,1.0405)" fill="#F20000" stroke="#F20000" font-size="30.3">x=0.5%</text>
<rect x="1888" y="1367.65" width="91" height="6" fill="#F20000" stroke="none"/>
<text transform="translate(1985.5,1381.45) scale(1,1.0405)" fill="#F20000" stroke="#F20000" font-size="30.3">x=0.5%</text>
<rect x="1885" y="1400.1" width="13" height="10.6" fill="#0000C8" stroke="none"/>
<rect x="1905.5" y="1400.1" width="13" height="10.6" fill="#0000C8" stroke="none"/>
<rect x="1926" y="1400.1" width="13" height="10.6" fill="#0000C8" stroke="none"/>
<rect x="1946.5" y="1400.1" width="13" height="10.6" fill="#0000C8" stroke="none"/>
<rect x="1967" y="1400.1" width="13" height="10.6" fill="#0000C8" stroke="none"/>
<text transform="translate(1985.5,1416.2) scale(1,1.0405)" fill="#0000C8" stroke="#0000C8" font-size="30.3">x=0.75%</text>
<rect x="1888" y="1437.15" width="91" height="6" fill="#0000C8" stroke="none"/>
<text transform="translate(1985.5,1450.95) scale(1,1.0405)" fill="#0000C8" stroke="#0000C8" font-size="30.3">x=0.75%</text>
<rect x="1885" y="1469.6" width="13" height="10.6" fill="#44FF00" stroke="none"/>
<rect x="1905.5" y="1469.6" width="13" height="10.6" fill="#44FF00" stroke="none"/>
<rect x="1926" y="1469.6" width="13" height="10.6" fill="#44FF00" stroke="none"/>
<rect x="1946.5" y="1469.6" width="13" height="10.6" fill="#44FF00" stroke="none"/>
<rect x="1967" y="1469.6" width="13" height="10.6" fill="#44FF00" stroke="none"/>
<text transform="translate(1985.5,1485.7) scale(1,1.0405)" fill="#44FF00" stroke="#44FF00" font-size="30.3">x=1%</text>
<rect x="1888" y="1506.65" width="91" height="6" fill="#44FF00" stroke="none"/>
<text transform="translate(1985.5,1520.45) scale(1,1.0405)" fill="#44FF00" stroke="#44FF00" font-size="30.3">x=1%</text>
<rect x="1885" y="1539.1" width="13" height="10.6" fill="#F57400" stroke="none"/>
<rect x="1905.5" y="1539.1" width="13" height="10.6" fill="#F57400" stroke="none"/>
<rect x="1926" y="1539.1" width="13" height="10.6" fill="#F57400" stroke="none"/>
<rect x="1946.5" y="1539.1" width="13" height="10.6" fill="#F57400" stroke="none"/>
<rect x="1967" y="1539.1" width="13" height="10.6" fill="#F57400" stroke="none"/>
<text transform="translate(1985.5,1555.2) scale(1,1.0405)" fill="#F57400" stroke="#F57400" font-size="30.3">x=2%</text>
<rect x="2120" y="1332.9" width="92" height="6" fill="#F57400" stroke="none"/>
<text transform="translate(2218.8,1346.7) scale(1,1.0405)" fill="#F57400" stroke="#F57400" font-size="30.3">x=2%</text>
<rect x="2118" y="1365.35" width="13" height="10.6" fill="#000000" stroke="none"/>
<rect x="2138.5" y="1365.35" width="13" height="10.6" fill="#000000" stroke="none"/>
<rect x="2159" y="1365.35" width="13" height="10.6" fill="#000000" stroke="none"/>
<rect x="2179.5" y="1365.35" width="13" height="10.6" fill="#000000" stroke="none"/>
<rect x="2200" y="1365.35" width="13" height="10.6" fill="#000000" stroke="none"/>
<text transform="translate(2218.8,1381.45) scale(1,1.0405)" fill="#000000" stroke="#000000" font-size="30.3">x=3%</text>
<rect x="2120" y="1402.4" width="92" height="6" fill="#000000" stroke="none"/>
<text transform="translate(2218.8,1416.2) scale(1,1.0405)" fill="#000000" stroke="#000000" font-size="30.3">x=3%</text>
<rect x="2118" y="1434.85" width="13" height="10.6" fill="#5CE0FF" stroke="none"/>
<rect x="2138.5" y="1434.85" width="13" height="10.6" fill="#5CE0FF" stroke="none"/>
<rect x="2159" y="1434.85" width="13" height="10.6" fill="#5CE0FF" stroke="none"/>
<rect x="2179.5" y="1434.85" width="13" height="10.6" fill="#5CE0FF" stroke="none"/>
<rect x="2200" y="1434.85" width="13" height="10.6" fill="#5CE0FF" stroke="none"/>
<text transform="translate(2218.8,1450.95) scale(1,1.0405)" fill="#5CE0FF" stroke="#5CE0FF" font-size="30.3">x=4%</text>
<rect x="2120" y="1471.9" width="92" height="6" fill="#5CE0FF" stroke="none"/>
<text transform="translate(2218.8,1485.7) scale(1,1.0405)" fill="#5CE0FF" stroke="#5CE0FF" font-size="30.3">x=4%</text>
<rect x="2118" y="1504.35" width="13" height="10.6" fill="#E4006E" stroke="none"/>
<rect x="2138.5" y="1504.35" width="13" height="10.6" fill="#E4006E" stroke="none"/>
<rect x="2159" y="1504.35" width="13" height="10.6" fill="#E4006E" stroke="none"/>
<rect x="2179.5" y="1504.35" width="13" height="10.6" fill="#E4006E" stroke="none"/>
<rect x="2200" y="1504.35" width="13" height="10.6" fill="#E4006E" stroke="none"/>
<text transform="translate(2218.8,1520.45) scale(1,1.0405)" fill="#E4006E" stroke="#E4006E" font-size="30.3">x=5%</text>
<rect x="2120" y="1541.4" width="92" height="6" fill="#E4006E" stroke="none"/>
<text transform="translate(2218.8,1555.2) scale(1,1.0405)" fill="#E4006E" stroke="#E4006E" font-size="30.3">x=5%</text>
</g>
</svg>
</body></html>
